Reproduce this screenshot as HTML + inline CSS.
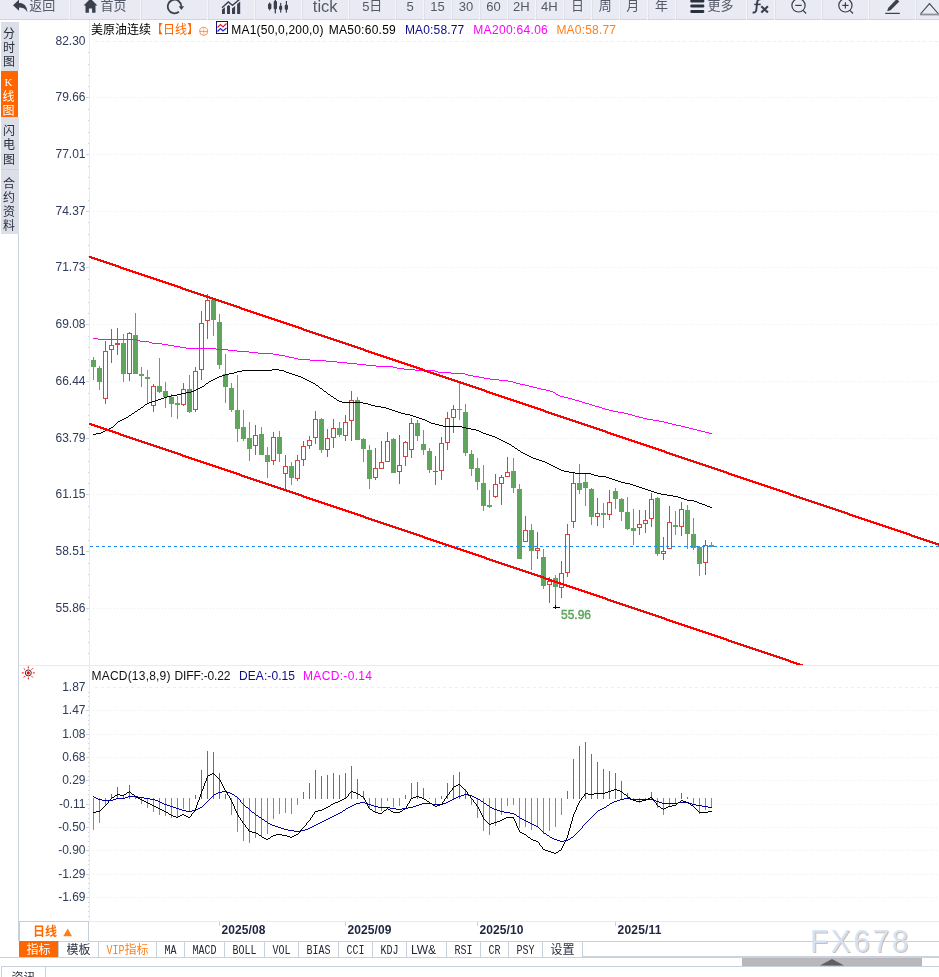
<!DOCTYPE html>
<html lang="zh-CN"><head><meta charset="utf-8"><title>美原油连续 日线</title>
<style>
html,body{margin:0;padding:0;background:#fff;}
body{width:939px;height:977px;overflow:hidden;position:relative;font-family:"Liberation Sans","Noto Sans CJK SC",sans-serif;}
#page{position:absolute;left:0;top:0;width:939px;height:977px;overflow:hidden;background:#fff;}
.toolbar{position:absolute;left:0;top:0;width:939px;height:20px;background:#f6f7fa;}
.tb{position:absolute;top:-7px;height:25px;background:#e8eaf2;border-bottom:1px solid #d3d6df;box-sizing:content-box;display:flex;align-items:center;justify-content:center;font-size:13px;color:#3a3f4d;white-space:nowrap;overflow:hidden;line-height:1}
.tb span{display:inline-block}
.tb .en{font-size:15px;font-family:"Liberation Sans",sans-serif;color:#4a4f5d}
.tb .ic{display:inline-block;margin-right:3px;flex:none}
.tb .fx{font-weight:bold;font-size:15px;color:#2a2f3d}
.side{position:absolute;left:1px;width:18px;padding-right:2px;background:#dcdfe8;color:#2a3040;font-size:12px;text-align:center;line-height:14px;box-sizing:border-box;font-family:"Liberation Sans","Noto Sans CJK SC",sans-serif}
.side.on{background:#ff6600;color:#fff}
.period{position:absolute;left:19px;top:921px;width:68px;height:19px;border:1px solid #c5cedb;box-sizing:content-box;color:#ff6a00;font-weight:bold;font-size:12px;line-height:19px;text-align:center;background:#fff}
.bt{position:absolute;top:941px;height:16px;border-right:1px solid #c9d1dc;border-top:1px solid #c9d1dc;box-sizing:border-box;font-size:12px;line-height:15px;padding-top:1px;text-align:center;color:#2a3040;background:#fff;white-space:nowrap;font-family:"Liberation Sans","Noto Sans CJK SC",sans-serif}
.bt.on{background:#ff6600;color:#fff;border-top-color:#ff6600}
.bt.vip{color:#ff7f1a}
.bt.m{color:#222838}
.bt.lw{padding-right:6px}
.mm{display:inline-block;font-family:"Liberation Mono",monospace;font-size:10px;transform:scaleY(1.2);transform-origin:50% 60%}
.hline{position:absolute;height:1px;background:#c9d1dc}
</style></head>
<body><div id="page">
<svg width="939" height="977" viewBox="0 0 939 977" style="position:absolute;left:0;top:0">
<g shape-rendering="crispEdges">
<rect x="89" y="20" width="1" height="901" fill="#e7ecf1"/>
<rect x="18" y="117" width="1" height="824" fill="#c9d1dc"/>
<rect x="19" y="665" width="920" height="1" fill="#e7ecf1"/>
<rect x="19" y="921" width="920" height="1" fill="#e7ecf1"/>
<line x1="95" x2="939" y1="41.5" y2="41.5" stroke="#e9eef1" stroke-dasharray="3 3"/>
<line x1="91" x2="939" y1="97.5" y2="97.5" stroke="#e9eef1" stroke-dasharray="1 2" stroke-dashoffset="1"/>
<rect x="86" y="97" width="3" height="1" fill="#ccd2da"/>
<line x1="91" x2="939" y1="154.5" y2="154.5" stroke="#e9eef1" stroke-dasharray="1 2" stroke-dashoffset="1"/>
<rect x="86" y="154" width="3" height="1" fill="#ccd2da"/>
<line x1="91" x2="939" y1="211.5" y2="211.5" stroke="#e9eef1" stroke-dasharray="1 2" stroke-dashoffset="1"/>
<rect x="86" y="211" width="3" height="1" fill="#ccd2da"/>
<line x1="91" x2="939" y1="267.5" y2="267.5" stroke="#e9eef1" stroke-dasharray="1 2" stroke-dashoffset="1"/>
<rect x="86" y="267" width="3" height="1" fill="#ccd2da"/>
<line x1="91" x2="939" y1="324.5" y2="324.5" stroke="#e9eef1" stroke-dasharray="1 2" stroke-dashoffset="1"/>
<rect x="86" y="324" width="3" height="1" fill="#ccd2da"/>
<line x1="91" x2="939" y1="381.5" y2="381.5" stroke="#e9eef1" stroke-dasharray="1 2" stroke-dashoffset="1"/>
<rect x="86" y="381" width="3" height="1" fill="#ccd2da"/>
<line x1="91" x2="939" y1="438.5" y2="438.5" stroke="#e9eef1" stroke-dasharray="1 2" stroke-dashoffset="1"/>
<rect x="86" y="438" width="3" height="1" fill="#ccd2da"/>
<line x1="91" x2="939" y1="494.5" y2="494.5" stroke="#e9eef1" stroke-dasharray="1 2" stroke-dashoffset="1"/>
<rect x="86" y="494" width="3" height="1" fill="#ccd2da"/>
<line x1="91" x2="939" y1="551.5" y2="551.5" stroke="#e9eef1" stroke-dasharray="1 2" stroke-dashoffset="1"/>
<rect x="86" y="551" width="3" height="1" fill="#ccd2da"/>
<line x1="91" x2="939" y1="608.5" y2="608.5" stroke="#e9eef1" stroke-dasharray="1 2" stroke-dashoffset="1"/>
<rect x="86" y="608" width="3" height="1" fill="#ccd2da"/>
<rect x="88" y="52" width="1" height="1" fill="#ccd2da"/>
<rect x="88" y="64" width="1" height="1" fill="#ccd2da"/>
<rect x="88" y="75" width="1" height="1" fill="#ccd2da"/>
<rect x="88" y="86" width="1" height="1" fill="#ccd2da"/>
<rect x="88" y="109" width="1" height="1" fill="#ccd2da"/>
<rect x="88" y="120" width="1" height="1" fill="#ccd2da"/>
<rect x="88" y="132" width="1" height="1" fill="#ccd2da"/>
<rect x="88" y="143" width="1" height="1" fill="#ccd2da"/>
<rect x="88" y="166" width="1" height="1" fill="#ccd2da"/>
<rect x="88" y="177" width="1" height="1" fill="#ccd2da"/>
<rect x="88" y="188" width="1" height="1" fill="#ccd2da"/>
<rect x="88" y="200" width="1" height="1" fill="#ccd2da"/>
<rect x="88" y="222" width="1" height="1" fill="#ccd2da"/>
<rect x="88" y="234" width="1" height="1" fill="#ccd2da"/>
<rect x="88" y="245" width="1" height="1" fill="#ccd2da"/>
<rect x="88" y="256" width="1" height="1" fill="#ccd2da"/>
<rect x="88" y="279" width="1" height="1" fill="#ccd2da"/>
<rect x="88" y="290" width="1" height="1" fill="#ccd2da"/>
<rect x="88" y="302" width="1" height="1" fill="#ccd2da"/>
<rect x="88" y="313" width="1" height="1" fill="#ccd2da"/>
<rect x="88" y="336" width="1" height="1" fill="#ccd2da"/>
<rect x="88" y="347" width="1" height="1" fill="#ccd2da"/>
<rect x="88" y="359" width="1" height="1" fill="#ccd2da"/>
<rect x="88" y="370" width="1" height="1" fill="#ccd2da"/>
<rect x="88" y="393" width="1" height="1" fill="#ccd2da"/>
<rect x="88" y="404" width="1" height="1" fill="#ccd2da"/>
<rect x="88" y="415" width="1" height="1" fill="#ccd2da"/>
<rect x="88" y="427" width="1" height="1" fill="#ccd2da"/>
<rect x="88" y="449" width="1" height="1" fill="#ccd2da"/>
<rect x="88" y="461" width="1" height="1" fill="#ccd2da"/>
<rect x="88" y="472" width="1" height="1" fill="#ccd2da"/>
<rect x="88" y="483" width="1" height="1" fill="#ccd2da"/>
<rect x="88" y="506" width="1" height="1" fill="#ccd2da"/>
<rect x="88" y="517" width="1" height="1" fill="#ccd2da"/>
<rect x="88" y="529" width="1" height="1" fill="#ccd2da"/>
<rect x="88" y="540" width="1" height="1" fill="#ccd2da"/>
<rect x="88" y="563" width="1" height="1" fill="#ccd2da"/>
<rect x="88" y="574" width="1" height="1" fill="#ccd2da"/>
<rect x="88" y="585" width="1" height="1" fill="#ccd2da"/>
<rect x="88" y="597" width="1" height="1" fill="#ccd2da"/>
<rect x="88" y="619" width="1" height="1" fill="#ccd2da"/>
<rect x="88" y="631" width="1" height="1" fill="#ccd2da"/>
<rect x="88" y="642" width="1" height="1" fill="#ccd2da"/>
<rect x="88" y="653" width="1" height="1" fill="#ccd2da"/>
<line x1="95" x2="939" y1="687.5" y2="687.5" stroke="#e9eef1" stroke-dasharray="3 3"/>
<line x1="91" x2="939" y1="710.5" y2="710.5" stroke="#e9eef1" stroke-dasharray="1 2" stroke-dashoffset="1"/>
<rect x="86" y="710" width="3" height="1" fill="#ccd2da"/>
<line x1="91" x2="939" y1="734.5" y2="734.5" stroke="#e9eef1" stroke-dasharray="1 2" stroke-dashoffset="1"/>
<rect x="86" y="734" width="3" height="1" fill="#ccd2da"/>
<line x1="91" x2="939" y1="757.5" y2="757.5" stroke="#e9eef1" stroke-dasharray="1 2" stroke-dashoffset="1"/>
<rect x="86" y="757" width="3" height="1" fill="#ccd2da"/>
<line x1="91" x2="939" y1="780.5" y2="780.5" stroke="#e9eef1" stroke-dasharray="1 2" stroke-dashoffset="1"/>
<rect x="86" y="780" width="3" height="1" fill="#ccd2da"/>
<line x1="91" x2="939" y1="804.5" y2="804.5" stroke="#e9eef1" stroke-dasharray="1 2" stroke-dashoffset="1"/>
<rect x="86" y="804" width="3" height="1" fill="#ccd2da"/>
<line x1="91" x2="939" y1="827.5" y2="827.5" stroke="#e9eef1" stroke-dasharray="1 2" stroke-dashoffset="1"/>
<rect x="86" y="827" width="3" height="1" fill="#ccd2da"/>
<line x1="91" x2="939" y1="850.5" y2="850.5" stroke="#e9eef1" stroke-dasharray="1 2" stroke-dashoffset="1"/>
<rect x="86" y="850" width="3" height="1" fill="#ccd2da"/>
<line x1="91" x2="939" y1="874.5" y2="874.5" stroke="#e9eef1" stroke-dasharray="1 2" stroke-dashoffset="1"/>
<rect x="86" y="874" width="3" height="1" fill="#ccd2da"/>
<line x1="91" x2="939" y1="897.5" y2="897.5" stroke="#e9eef1" stroke-dasharray="1 2" stroke-dashoffset="1"/>
<rect x="86" y="897" width="3" height="1" fill="#ccd2da"/>
<rect x="88" y="692" width="1" height="1" fill="#ccd2da"/>
<rect x="88" y="696" width="1" height="1" fill="#ccd2da"/>
<rect x="88" y="701" width="1" height="1" fill="#ccd2da"/>
<rect x="88" y="706" width="1" height="1" fill="#ccd2da"/>
<rect x="88" y="715" width="1" height="1" fill="#ccd2da"/>
<rect x="88" y="720" width="1" height="1" fill="#ccd2da"/>
<rect x="88" y="724" width="1" height="1" fill="#ccd2da"/>
<rect x="88" y="729" width="1" height="1" fill="#ccd2da"/>
<rect x="88" y="738" width="1" height="1" fill="#ccd2da"/>
<rect x="88" y="743" width="1" height="1" fill="#ccd2da"/>
<rect x="88" y="748" width="1" height="1" fill="#ccd2da"/>
<rect x="88" y="752" width="1" height="1" fill="#ccd2da"/>
<rect x="88" y="762" width="1" height="1" fill="#ccd2da"/>
<rect x="88" y="766" width="1" height="1" fill="#ccd2da"/>
<rect x="88" y="771" width="1" height="1" fill="#ccd2da"/>
<rect x="88" y="776" width="1" height="1" fill="#ccd2da"/>
<rect x="88" y="785" width="1" height="1" fill="#ccd2da"/>
<rect x="88" y="790" width="1" height="1" fill="#ccd2da"/>
<rect x="88" y="794" width="1" height="1" fill="#ccd2da"/>
<rect x="88" y="799" width="1" height="1" fill="#ccd2da"/>
<rect x="88" y="808" width="1" height="1" fill="#ccd2da"/>
<rect x="88" y="813" width="1" height="1" fill="#ccd2da"/>
<rect x="88" y="818" width="1" height="1" fill="#ccd2da"/>
<rect x="88" y="822" width="1" height="1" fill="#ccd2da"/>
<rect x="88" y="832" width="1" height="1" fill="#ccd2da"/>
<rect x="88" y="836" width="1" height="1" fill="#ccd2da"/>
<rect x="88" y="841" width="1" height="1" fill="#ccd2da"/>
<rect x="88" y="846" width="1" height="1" fill="#ccd2da"/>
<rect x="88" y="855" width="1" height="1" fill="#ccd2da"/>
<rect x="88" y="860" width="1" height="1" fill="#ccd2da"/>
<rect x="88" y="864" width="1" height="1" fill="#ccd2da"/>
<rect x="88" y="869" width="1" height="1" fill="#ccd2da"/>
<rect x="88" y="878" width="1" height="1" fill="#ccd2da"/>
<rect x="88" y="883" width="1" height="1" fill="#ccd2da"/>
<rect x="88" y="888" width="1" height="1" fill="#ccd2da"/>
<rect x="88" y="892" width="1" height="1" fill="#ccd2da"/>
<rect x="88" y="902" width="1" height="1" fill="#ccd2da"/>
<rect x="88" y="906" width="1" height="1" fill="#ccd2da"/>
<rect x="88" y="911" width="1" height="1" fill="#ccd2da"/>
<rect x="88" y="916" width="1" height="1" fill="#ccd2da"/>
<rect x="219" y="922" width="1" height="4" fill="#ccd2da"/>
<rect x="345" y="922" width="1" height="4" fill="#ccd2da"/>
<rect x="477" y="922" width="1" height="4" fill="#ccd2da"/>
<rect x="615" y="922" width="1" height="4" fill="#ccd2da"/>
<rect x="93" y="798" width="1" height="32" fill="#60a55e"/>
<rect x="99" y="798" width="1" height="25" fill="#60a55e"/>
<rect x="105" y="798" width="1" height="8" fill="#60a55e"/>
<rect x="111" y="794" width="1" height="5" fill="#d2453c"/>
<rect x="117" y="787" width="1" height="12" fill="#d2453c"/>
<rect x="123" y="795" width="1" height="4" fill="#d2453c"/>
<rect x="129" y="785" width="1" height="14" fill="#d2453c"/>
<rect x="135" y="796" width="1" height="3" fill="#d2453c"/>
<rect x="141" y="798" width="1" height="6" fill="#60a55e"/>
<rect x="147" y="798" width="1" height="10" fill="#60a55e"/>
<rect x="153" y="798" width="1" height="14" fill="#60a55e"/>
<rect x="159" y="798" width="1" height="17" fill="#60a55e"/>
<rect x="165" y="798" width="1" height="18" fill="#60a55e"/>
<rect x="171" y="798" width="1" height="20" fill="#60a55e"/>
<rect x="177" y="798" width="1" height="19" fill="#60a55e"/>
<rect x="183" y="798" width="1" height="11" fill="#60a55e"/>
<rect x="189" y="798" width="1" height="13" fill="#60a55e"/>
<rect x="195" y="795" width="1" height="4" fill="#d2453c"/>
<rect x="201" y="770" width="1" height="29" fill="#d2453c"/>
<rect x="207" y="751" width="1" height="48" fill="#d2453c"/>
<rect x="213" y="752" width="1" height="47" fill="#d2453c"/>
<rect x="219" y="773" width="1" height="26" fill="#d2453c"/>
<rect x="225" y="794" width="1" height="5" fill="#d2453c"/>
<rect x="231" y="798" width="1" height="17" fill="#60a55e"/>
<rect x="237" y="798" width="1" height="34" fill="#60a55e"/>
<rect x="243" y="798" width="1" height="43" fill="#60a55e"/>
<rect x="249" y="798" width="1" height="45" fill="#60a55e"/>
<rect x="255" y="798" width="1" height="40" fill="#60a55e"/>
<rect x="261" y="798" width="1" height="38" fill="#60a55e"/>
<rect x="267" y="798" width="1" height="36" fill="#60a55e"/>
<rect x="273" y="798" width="1" height="21" fill="#60a55e"/>
<rect x="279" y="798" width="1" height="16" fill="#60a55e"/>
<rect x="285" y="798" width="1" height="15" fill="#60a55e"/>
<rect x="291" y="798" width="1" height="16" fill="#60a55e"/>
<rect x="297" y="798" width="1" height="7" fill="#60a55e"/>
<rect x="303" y="792" width="1" height="7" fill="#d2453c"/>
<rect x="309" y="783" width="1" height="16" fill="#d2453c"/>
<rect x="315" y="770" width="1" height="29" fill="#d2453c"/>
<rect x="321" y="776" width="1" height="23" fill="#d2453c"/>
<rect x="327" y="775" width="1" height="24" fill="#d2453c"/>
<rect x="333" y="773" width="1" height="26" fill="#d2453c"/>
<rect x="339" y="775" width="1" height="24" fill="#d2453c"/>
<rect x="345" y="773" width="1" height="26" fill="#d2453c"/>
<rect x="351" y="766" width="1" height="33" fill="#d2453c"/>
<rect x="357" y="779" width="1" height="20" fill="#d2453c"/>
<rect x="363" y="791" width="1" height="8" fill="#d2453c"/>
<rect x="369" y="798" width="1" height="11" fill="#60a55e"/>
<rect x="375" y="798" width="1" height="15" fill="#60a55e"/>
<rect x="381" y="798" width="1" height="13" fill="#60a55e"/>
<rect x="387" y="798" width="1" height="3" fill="#60a55e"/>
<rect x="393" y="798" width="1" height="9" fill="#60a55e"/>
<rect x="399" y="798" width="1" height="8" fill="#60a55e"/>
<rect x="405" y="795" width="1" height="4" fill="#d2453c"/>
<rect x="411" y="783" width="1" height="16" fill="#d2453c"/>
<rect x="417" y="782" width="1" height="17" fill="#d2453c"/>
<rect x="423" y="788" width="1" height="11" fill="#d2453c"/>
<rect x="429" y="798" width="1" height="1" fill="#60a55e"/>
<rect x="435" y="798" width="1" height="7" fill="#60a55e"/>
<rect x="441" y="796" width="1" height="3" fill="#d2453c"/>
<rect x="447" y="783" width="1" height="16" fill="#d2453c"/>
<rect x="453" y="775" width="1" height="24" fill="#d2453c"/>
<rect x="459" y="772" width="1" height="27" fill="#d2453c"/>
<rect x="465" y="789" width="1" height="10" fill="#d2453c"/>
<rect x="471" y="798" width="1" height="7" fill="#60a55e"/>
<rect x="477" y="798" width="1" height="20" fill="#60a55e"/>
<rect x="483" y="798" width="1" height="33" fill="#60a55e"/>
<rect x="489" y="798" width="1" height="37" fill="#60a55e"/>
<rect x="495" y="798" width="1" height="28" fill="#60a55e"/>
<rect x="501" y="798" width="1" height="17" fill="#60a55e"/>
<rect x="507" y="798" width="1" height="8" fill="#60a55e"/>
<rect x="513" y="798" width="1" height="7" fill="#60a55e"/>
<rect x="519" y="798" width="1" height="30" fill="#60a55e"/>
<rect x="525" y="798" width="1" height="29" fill="#60a55e"/>
<rect x="531" y="798" width="1" height="32" fill="#60a55e"/>
<rect x="537" y="798" width="1" height="28" fill="#60a55e"/>
<rect x="543" y="798" width="1" height="36" fill="#60a55e"/>
<rect x="549" y="798" width="1" height="33" fill="#60a55e"/>
<rect x="555" y="798" width="1" height="29" fill="#60a55e"/>
<rect x="561" y="798" width="1" height="17" fill="#60a55e"/>
<rect x="567" y="791" width="1" height="8" fill="#d2453c"/>
<rect x="573" y="759" width="1" height="40" fill="#d2453c"/>
<rect x="579" y="746" width="1" height="53" fill="#d2453c"/>
<rect x="585" y="742" width="1" height="57" fill="#d2453c"/>
<rect x="591" y="754" width="1" height="45" fill="#d2453c"/>
<rect x="597" y="762" width="1" height="37" fill="#d2453c"/>
<rect x="603" y="769" width="1" height="30" fill="#d2453c"/>
<rect x="609" y="771" width="1" height="28" fill="#d2453c"/>
<rect x="615" y="773" width="1" height="26" fill="#d2453c"/>
<rect x="621" y="781" width="1" height="18" fill="#d2453c"/>
<rect x="627" y="793" width="1" height="6" fill="#d2453c"/>
<rect x="633" y="798" width="1" height="3" fill="#60a55e"/>
<rect x="639" y="798" width="1" height="5" fill="#60a55e"/>
<rect x="645" y="798" width="1" height="3" fill="#60a55e"/>
<rect x="651" y="792" width="1" height="7" fill="#d2453c"/>
<rect x="657" y="798" width="1" height="10" fill="#60a55e"/>
<rect x="663" y="798" width="1" height="17" fill="#60a55e"/>
<rect x="669" y="798" width="1" height="8" fill="#60a55e"/>
<rect x="675" y="798" width="1" height="5" fill="#60a55e"/>
<rect x="681" y="793" width="1" height="6" fill="#d2453c"/>
<rect x="687" y="797" width="1" height="2" fill="#d2453c"/>
<rect x="693" y="798" width="1" height="7" fill="#60a55e"/>
<rect x="699" y="798" width="1" height="16" fill="#60a55e"/>
<rect x="705" y="798" width="1" height="12" fill="#60a55e"/>
<rect x="711" y="798" width="1" height="10" fill="#60a55e"/>
</g>
<path d="M93 796h1v1h-1zM94 797h1v1h-1zM95 797h1v1h-1zM96 798h1v1h-1zM97 798h1v1h-1zM98 799h1v1h-1zM99 799h1v1h-1zM100 799h1v1h-1zM101 799h1v1h-1zM102 800h1v1h-1zM103 800h1v1h-1zM104 800h1v1h-1zM105 800h1v1h-1zM106 800h1v1h-1zM107 800h1v1h-1zM108 800h1v1h-1zM109 800h1v1h-1zM110 800h1v1h-1zM111 800h1v1h-1zM112 800h1v1h-1zM113 799h1v1h-1zM114 799h1v1h-1zM115 799h1v1h-1zM116 798h1v1h-1zM117 798h1v1h-1zM118 798h1v1h-1zM119 798h1v1h-1zM120 798h1v1h-1zM121 798h1v1h-1zM122 798h1v1h-1zM123 798h1v1h-1zM124 798h1v1h-1zM125 797h1v1h-1zM126 797h1v1h-1zM127 797h1v1h-1zM128 796h1v1h-1zM129 796h1v1h-1zM130 796h1v1h-1zM131 796h1v1h-1zM132 796h1v1h-1zM133 796h1v1h-1zM134 796h1v1h-1zM135 796h1v1h-1zM136 796h1v1h-1zM137 796h1v1h-1zM138 797h1v1h-1zM139 797h1v1h-1zM140 797h1v1h-1zM141 797h1v1h-1zM142 797h1v1h-1zM143 797h1v1h-1zM144 798h1v1h-1zM145 798h1v1h-1zM146 798h1v1h-1zM147 798h1v1h-1zM148 798h1v1h-1zM149 798h1v1h-1zM150 799h1v1h-1zM151 799h1v1h-1zM152 799h1v1h-1zM153 799h1v1h-1zM154 799h1v1h-1zM155 800h1v1h-1zM156 800h1v1h-1zM157 800h1v1h-1zM158 801h1v1h-1zM159 801h1v1h-1zM160 802h1v1h-1zM161 802h1v1h-1zM162 803h1v1h-1zM163 803h1v1h-1zM164 804h1v1h-1zM165 804h1v1h-1zM166 804h1v1h-1zM167 805h1v1h-1zM168 805h1v1h-1zM169 805h1v1h-1zM170 806h1v1h-1zM171 806h1v1h-1zM172 806h1v1h-1zM173 807h1v1h-1zM174 807h1v1h-1zM175 807h1v1h-1zM176 808h1v1h-1zM177 808h1v1h-1zM178 808h1v1h-1zM179 809h1v1h-1zM180 809h1v1h-1zM181 809h1v1h-1zM182 810h1v1h-1zM183 810h1v1h-1zM184 810h1v1h-1zM185 810h1v1h-1zM186 811h1v1h-1zM187 811h1v1h-1zM188 811h1v1h-1zM189 811h1v1h-1zM190 811h1v1h-1zM191 811h1v1h-1zM192 810h1v1h-1zM193 810h1v1h-1zM194 810h1v1h-1zM195 810h1v1h-1zM196 809h1v1h-1zM197 809h1v1h-1zM198 808h1v1h-1zM199 808h1v1h-1zM200 807h1v1h-1zM201 807h1v1h-1zM202 806h1v1h-1zM203 805h1v1h-1zM204 804h1v1h-1zM205 803h1v1h-1zM206 802h1v1h-1zM207 801h1v1h-1zM208 800h1v1h-1zM209 799h1v1h-1zM210 798h1v1h-1zM211 797h1v1h-1zM212 796h1v1h-1zM213 795h1v1h-1zM214 794h1v1h-1zM215 794h1v1h-1zM216 793h1v1h-1zM217 793h1v1h-1zM218 792h1v1h-1zM219 792h1v1h-1zM220 792h1v1h-1zM221 792h1v1h-1zM222 791h1v1h-1zM223 791h1v1h-1zM224 791h1v1h-1zM225 791h1v1h-1zM226 791h1v1h-1zM227 792h1v1h-1zM228 792h1v1h-1zM229 792h1v1h-1zM230 793h1v1h-1zM231 793h1v1h-1zM232 794h1v1h-1zM233 794h1v1h-1zM234 795h1v1h-1zM235 796h1v1h-1zM236 796h1v1h-1zM237 797h1v1h-1zM238 798h1v1h-1zM239 799h1v1h-1zM240 800h1v2h-1zM241 802h1v1h-1zM242 803h1v1h-1zM243 804h1v1h-1zM244 805h1v1h-1zM245 806h1v1h-1zM246 807h1v1h-1zM247 807h1v1h-1zM248 808h1v1h-1zM249 809h1v1h-1zM250 810h1v1h-1zM251 811h1v1h-1zM252 812h1v1h-1zM253 812h1v1h-1zM254 813h1v1h-1zM255 814h1v1h-1zM256 815h1v1h-1zM257 815h1v1h-1zM258 816h1v1h-1zM259 817h1v1h-1zM260 817h1v1h-1zM261 818h1v1h-1zM262 819h1v1h-1zM263 819h1v1h-1zM264 820h1v1h-1zM265 821h1v1h-1zM266 821h1v1h-1zM267 822h1v1h-1zM268 823h1v1h-1zM269 823h1v1h-1zM270 824h1v1h-1zM271 824h1v1h-1zM272 825h1v1h-1zM273 825h1v1h-1zM274 825h1v1h-1zM275 826h1v1h-1zM276 826h1v1h-1zM277 826h1v1h-1zM278 827h1v1h-1zM279 827h1v1h-1zM280 827h1v1h-1zM281 828h1v1h-1zM282 828h1v1h-1zM283 828h1v1h-1zM284 829h1v1h-1zM285 829h1v1h-1zM286 829h1v1h-1zM287 829h1v1h-1zM288 830h1v1h-1zM289 830h1v1h-1zM290 830h1v1h-1zM291 830h1v1h-1zM292 830h1v1h-1zM293 830h1v1h-1zM294 831h1v1h-1zM295 831h1v1h-1zM296 831h1v1h-1zM297 831h1v1h-1zM298 831h1v1h-1zM299 831h1v1h-1zM300 830h1v1h-1zM301 830h1v1h-1zM302 830h1v1h-1zM303 830h1v1h-1zM304 830h1v1h-1zM305 829h1v1h-1zM306 829h1v1h-1zM307 829h1v1h-1zM308 828h1v1h-1zM309 828h1v1h-1zM310 827h1v1h-1zM311 827h1v1h-1zM312 826h1v1h-1zM313 826h1v1h-1zM314 825h1v1h-1zM315 825h1v1h-1zM316 824h1v1h-1zM317 824h1v1h-1zM318 823h1v1h-1zM319 823h1v1h-1zM320 822h1v1h-1zM321 822h1v1h-1zM322 821h1v1h-1zM323 821h1v1h-1zM324 820h1v1h-1zM325 820h1v1h-1zM326 819h1v1h-1zM327 819h1v1h-1zM328 818h1v1h-1zM329 818h1v1h-1zM330 817h1v1h-1zM331 817h1v1h-1zM332 816h1v1h-1zM333 816h1v1h-1zM334 815h1v1h-1zM335 815h1v1h-1zM336 814h1v1h-1zM337 814h1v1h-1zM338 813h1v1h-1zM339 813h1v1h-1zM340 812h1v1h-1zM341 812h1v1h-1zM342 811h1v1h-1zM343 810h1v1h-1zM344 810h1v1h-1zM345 809h1v1h-1zM346 808h1v1h-1zM347 808h1v1h-1zM348 807h1v1h-1zM349 807h1v1h-1zM350 806h1v1h-1zM351 806h1v1h-1zM352 805h1v1h-1zM353 805h1v1h-1zM354 804h1v1h-1zM355 804h1v1h-1zM356 803h1v1h-1zM357 803h1v1h-1zM358 803h1v1h-1zM359 803h1v1h-1zM360 802h1v1h-1zM361 802h1v1h-1zM362 802h1v1h-1zM363 802h1v1h-1zM364 802h1v1h-1zM365 803h1v1h-1zM366 803h1v1h-1zM367 803h1v1h-1zM368 804h1v1h-1zM369 804h1v1h-1zM370 804h1v1h-1zM371 805h1v1h-1zM372 805h1v1h-1zM373 805h1v1h-1zM374 806h1v1h-1zM375 806h1v1h-1zM376 806h1v1h-1zM377 806h1v1h-1zM378 807h1v1h-1zM379 807h1v1h-1zM380 807h1v1h-1zM381 807h1v1h-1zM382 807h1v1h-1zM383 807h1v1h-1zM384 807h1v1h-1zM385 807h1v1h-1zM386 807h1v1h-1zM387 807h1v1h-1zM388 807h1v1h-1zM389 807h1v1h-1zM390 808h1v1h-1zM391 808h1v1h-1zM392 808h1v1h-1zM393 808h1v1h-1zM394 808h1v1h-1zM395 808h1v1h-1zM396 809h1v1h-1zM397 809h1v1h-1zM398 809h1v1h-1zM399 809h1v1h-1zM400 809h1v1h-1zM401 809h1v1h-1zM402 808h1v1h-1zM403 808h1v1h-1zM404 808h1v1h-1zM405 808h1v1h-1zM406 808h1v1h-1zM407 808h1v1h-1zM408 807h1v1h-1zM409 807h1v1h-1zM410 807h1v1h-1zM411 807h1v1h-1zM412 807h1v1h-1zM413 806h1v1h-1zM414 806h1v1h-1zM415 806h1v1h-1zM416 805h1v1h-1zM417 805h1v1h-1zM418 805h1v1h-1zM419 804h1v1h-1zM420 804h1v1h-1zM421 804h1v1h-1zM422 803h1v1h-1zM423 803h1v1h-1zM424 803h1v1h-1zM425 803h1v1h-1zM426 803h1v1h-1zM427 803h1v1h-1zM428 803h1v1h-1zM429 803h1v1h-1zM430 803h1v1h-1zM431 803h1v1h-1zM432 804h1v1h-1zM433 804h1v1h-1zM434 804h1v1h-1zM435 804h1v1h-1zM436 804h1v1h-1zM437 804h1v1h-1zM438 804h1v1h-1zM439 804h1v1h-1zM440 804h1v1h-1zM441 804h1v1h-1zM442 804h1v1h-1zM443 803h1v1h-1zM444 803h1v1h-1zM445 803h1v1h-1zM446 802h1v1h-1zM447 802h1v1h-1zM448 801h1v1h-1zM449 801h1v1h-1zM450 800h1v1h-1zM451 800h1v1h-1zM452 799h1v1h-1zM453 799h1v1h-1zM454 798h1v1h-1zM455 798h1v1h-1zM456 797h1v1h-1zM457 797h1v1h-1zM458 796h1v1h-1zM459 796h1v1h-1zM460 796h1v1h-1zM461 795h1v1h-1zM462 795h1v1h-1zM463 795h1v1h-1zM464 794h1v1h-1zM465 794h1v1h-1zM466 794h1v1h-1zM467 794h1v1h-1zM468 795h1v1h-1zM469 795h1v1h-1zM470 795h1v1h-1zM471 795h1v1h-1zM472 796h1v1h-1zM473 796h1v1h-1zM474 797h1v1h-1zM475 797h1v1h-1zM476 798h1v1h-1zM477 798h1v1h-1zM478 799h1v1h-1zM479 799h1v1h-1zM480 800h1v1h-1zM481 801h1v1h-1zM482 801h1v1h-1zM483 802h1v1h-1zM484 803h1v1h-1zM485 803h1v1h-1zM486 804h1v1h-1zM487 805h1v1h-1zM488 805h1v1h-1zM489 806h1v1h-1zM490 807h1v1h-1zM491 807h1v1h-1zM492 808h1v1h-1zM493 808h1v1h-1zM494 809h1v1h-1zM495 809h1v1h-1zM496 809h1v1h-1zM497 810h1v1h-1zM498 810h1v1h-1zM499 810h1v1h-1zM500 811h1v1h-1zM501 811h1v1h-1zM502 811h1v1h-1zM503 811h1v1h-1zM504 812h1v1h-1zM505 812h1v1h-1zM506 812h1v1h-1zM507 812h1v1h-1zM508 812h1v1h-1zM509 812h1v1h-1zM510 813h1v1h-1zM511 813h1v1h-1zM512 813h1v1h-1zM513 813h1v1h-1zM514 814h1v1h-1zM515 814h1v1h-1zM516 815h1v1h-1zM517 816h1v1h-1zM518 816h1v1h-1zM519 817h1v1h-1zM520 818h1v1h-1zM521 818h1v1h-1zM522 819h1v1h-1zM523 819h1v1h-1zM524 820h1v1h-1zM525 820h1v1h-1zM526 821h1v1h-1zM527 821h1v1h-1zM528 822h1v1h-1zM529 822h1v1h-1zM530 823h1v1h-1zM531 823h1v1h-1zM532 824h1v1h-1zM533 824h1v1h-1zM534 825h1v1h-1zM535 825h1v1h-1zM536 826h1v1h-1zM537 826h1v1h-1zM538 827h1v1h-1zM539 828h1v1h-1zM540 829h1v1h-1zM541 830h1v1h-1zM542 831h1v1h-1zM543 832h1v1h-1zM544 833h1v1h-1zM545 833h1v1h-1zM546 834h1v1h-1zM547 835h1v1h-1zM548 835h1v1h-1zM549 836h1v1h-1zM550 837h1v1h-1zM551 837h1v1h-1zM552 838h1v1h-1zM553 838h1v1h-1zM554 839h1v1h-1zM555 839h1v1h-1zM556 839h1v1h-1zM557 840h1v1h-1zM558 840h1v1h-1zM559 840h1v1h-1zM560 841h1v1h-1zM561 841h1v1h-1zM562 841h1v1h-1zM563 841h1v1h-1zM564 840h1v1h-1zM565 840h1v1h-1zM566 840h1v1h-1zM567 840h1v1h-1zM568 839h1v1h-1zM569 839h1v1h-1zM570 838h1v1h-1zM571 837h1v1h-1zM572 837h1v1h-1zM573 836h1v1h-1zM574 835h1v1h-1zM575 834h1v1h-1zM576 833h1v1h-1zM577 832h1v1h-1zM578 831h1v1h-1zM579 830h1v1h-1zM580 829h1v1h-1zM581 828h1v1h-1zM582 826h1v2h-1zM583 825h1v1h-1zM584 824h1v1h-1zM585 823h1v1h-1zM586 822h1v1h-1zM587 821h1v1h-1zM588 820h1v1h-1zM589 819h1v1h-1zM590 818h1v1h-1zM591 817h1v1h-1zM592 816h1v1h-1zM593 815h1v1h-1zM594 814h1v1h-1zM595 813h1v1h-1zM596 812h1v1h-1zM597 811h1v1h-1zM598 810h1v1h-1zM599 810h1v1h-1zM600 809h1v1h-1zM601 809h1v1h-1zM602 808h1v1h-1zM603 808h1v1h-1zM604 807h1v1h-1zM605 807h1v1h-1zM606 806h1v1h-1zM607 805h1v1h-1zM608 805h1v1h-1zM609 804h1v1h-1zM610 803h1v1h-1zM611 803h1v1h-1zM612 802h1v1h-1zM613 802h1v1h-1zM614 801h1v1h-1zM615 801h1v1h-1zM616 801h1v1h-1zM617 800h1v1h-1zM618 800h1v1h-1zM619 800h1v1h-1zM620 799h1v1h-1zM621 799h1v1h-1zM622 799h1v1h-1zM623 799h1v1h-1zM624 798h1v1h-1zM625 798h1v1h-1zM626 798h1v1h-1zM627 798h1v1h-1zM628 798h1v1h-1zM629 798h1v1h-1zM630 799h1v1h-1zM631 799h1v1h-1zM632 799h1v1h-1zM633 799h1v1h-1zM634 799h1v1h-1zM635 799h1v1h-1zM636 799h1v1h-1zM637 799h1v1h-1zM638 799h1v1h-1zM639 799h1v1h-1zM640 799h1v1h-1zM641 799h1v1h-1zM642 799h1v1h-1zM643 799h1v1h-1zM644 799h1v1h-1zM645 799h1v1h-1zM646 799h1v1h-1zM647 799h1v1h-1zM648 799h1v1h-1zM649 799h1v1h-1zM650 799h1v1h-1zM651 799h1v1h-1zM652 799h1v1h-1zM653 800h1v1h-1zM654 800h1v1h-1zM655 800h1v1h-1zM656 801h1v1h-1zM657 801h1v1h-1zM658 801h1v1h-1zM659 802h1v1h-1zM660 802h1v1h-1zM661 802h1v1h-1zM662 803h1v1h-1zM663 803h1v1h-1zM664 803h1v1h-1zM665 803h1v1h-1zM666 803h1v1h-1zM667 803h1v1h-1zM668 803h1v1h-1zM669 803h1v1h-1zM670 803h1v1h-1zM671 803h1v1h-1zM672 803h1v1h-1zM673 803h1v1h-1zM674 803h1v1h-1zM675 803h1v1h-1zM676 803h1v1h-1zM677 803h1v1h-1zM678 802h1v1h-1zM679 802h1v1h-1zM680 802h1v1h-1zM681 802h1v1h-1zM682 802h1v1h-1zM683 802h1v1h-1zM684 802h1v1h-1zM685 802h1v1h-1zM686 802h1v1h-1zM687 802h1v1h-1zM688 802h1v1h-1zM689 803h1v1h-1zM690 803h1v1h-1zM691 803h1v1h-1zM692 804h1v1h-1zM693 804h1v1h-1zM694 804h1v1h-1zM695 804h1v1h-1zM696 805h1v1h-1zM697 805h1v1h-1zM698 805h1v1h-1zM699 805h1v1h-1zM700 805h1v1h-1zM701 805h1v1h-1zM702 806h1v1h-1zM703 806h1v1h-1zM704 806h1v1h-1zM705 806h1v1h-1zM706 806h1v1h-1zM707 806h1v1h-1zM708 807h1v1h-1zM709 807h1v1h-1zM710 807h1v1h-1zM711 807h1v1h-1z" fill="#0000a0" shape-rendering="crispEdges"/>
<path d="M93 812h1v1h-1zM94 812h1v1h-1zM95 812h1v1h-1zM96 811h1v1h-1zM97 811h1v1h-1zM98 811h1v1h-1zM99 811h1v1h-1zM100 810h1v1h-1zM101 809h1v1h-1zM102 808h1v1h-1zM103 807h1v1h-1zM104 806h1v1h-1zM105 805h1v1h-1zM106 804h1v1h-1zM107 803h1v1h-1zM108 801h1v2h-1zM109 800h1v1h-1zM110 799h1v1h-1zM111 798h1v1h-1zM112 797h1v1h-1zM113 797h1v1h-1zM114 796h1v1h-1zM115 795h1v1h-1zM116 795h1v1h-1zM117 794h1v1h-1zM118 794h1v1h-1zM119 794h1v1h-1zM120 795h1v1h-1zM121 795h1v1h-1zM122 795h1v1h-1zM123 795h1v1h-1zM124 794h1v1h-1zM125 794h1v1h-1zM126 793h1v1h-1zM127 792h1v1h-1zM128 792h1v1h-1zM129 791h1v1h-1zM130 792h1v1h-1zM131 793h1v1h-1zM132 794h1v1h-1zM133 794h1v1h-1zM134 795h1v1h-1zM135 796h1v1h-1zM136 797h1v1h-1zM137 797h1v1h-1zM138 798h1v1h-1zM139 798h1v1h-1zM140 799h1v1h-1zM141 799h1v1h-1zM142 800h1v1h-1zM143 800h1v1h-1zM144 801h1v1h-1zM145 801h1v1h-1zM146 802h1v1h-1zM147 802h1v1h-1zM148 803h1v1h-1zM149 803h1v1h-1zM150 804h1v1h-1zM151 804h1v1h-1zM152 805h1v1h-1zM153 805h1v1h-1zM154 806h1v1h-1zM155 806h1v1h-1zM156 807h1v1h-1zM157 807h1v1h-1zM158 808h1v1h-1zM159 808h1v1h-1zM160 809h1v1h-1zM161 809h1v1h-1zM162 810h1v1h-1zM163 810h1v1h-1zM164 811h1v1h-1zM165 811h1v1h-1zM166 812h1v1h-1zM167 812h1v1h-1zM168 813h1v1h-1zM169 814h1v1h-1zM170 814h1v1h-1zM171 815h1v1h-1zM172 815h1v1h-1zM173 816h1v1h-1zM174 816h1v1h-1zM175 816h1v1h-1zM176 817h1v1h-1zM177 817h1v1h-1zM178 816h1v1h-1zM179 816h1v1h-1zM180 815h1v1h-1zM181 815h1v1h-1zM182 814h1v1h-1zM183 814h1v1h-1zM184 815h1v1h-1zM185 815h1v1h-1zM186 816h1v1h-1zM187 816h1v1h-1zM188 817h1v1h-1zM189 817h1v1h-1zM190 816h1v1h-1zM191 814h1v2h-1zM192 813h1v1h-1zM193 812h1v1h-1zM194 810h1v2h-1zM195 808h1v2h-1zM196 805h1v3h-1zM197 802h1v3h-1zM198 800h1v2h-1zM199 797h1v3h-1zM200 794h1v3h-1zM201 791h1v3h-1zM202 789h1v2h-1zM203 786h1v3h-1zM204 783h1v3h-1zM205 781h1v2h-1zM206 778h1v3h-1zM207 776h1v2h-1zM208 775h1v1h-1zM209 775h1v1h-1zM210 774h1v1h-1zM211 774h1v1h-1zM212 773h1v1h-1zM213 773h1v1h-1zM214 774h1v1h-1zM215 775h1v1h-1zM216 776h1v1h-1zM217 777h1v1h-1zM218 778h1v1h-1zM219 779h1v1h-1zM220 780h1v2h-1zM221 782h1v2h-1zM222 784h1v2h-1zM223 786h1v2h-1zM224 788h1v2h-1zM225 790h1v1h-1zM226 791h1v2h-1zM227 793h1v2h-1zM228 795h1v1h-1zM229 796h1v2h-1zM230 798h1v2h-1zM231 800h1v2h-1zM232 802h1v2h-1zM233 804h1v2h-1zM234 806h1v3h-1zM235 809h1v2h-1zM236 811h1v2h-1zM237 813h1v2h-1zM238 815h1v2h-1zM239 817h1v1h-1zM240 818h1v2h-1zM241 820h1v1h-1zM242 821h1v2h-1zM243 823h1v1h-1zM244 824h1v1h-1zM245 825h1v2h-1zM246 827h1v1h-1zM247 828h1v1h-1zM248 829h1v2h-1zM249 831h1v1h-1zM250 831h1v1h-1zM251 831h1v1h-1zM252 832h1v1h-1zM253 832h1v1h-1zM254 832h1v1h-1zM255 832h1v1h-1zM256 833h1v1h-1zM257 833h1v1h-1zM258 834h1v1h-1zM259 835h1v1h-1zM260 835h1v1h-1zM261 836h1v1h-1zM262 837h1v1h-1zM263 837h1v1h-1zM264 838h1v1h-1zM265 838h1v1h-1zM266 839h1v1h-1zM267 839h1v1h-1zM268 838h1v1h-1zM269 838h1v1h-1zM270 837h1v1h-1zM271 836h1v1h-1zM272 836h1v1h-1zM273 835h1v1h-1zM274 835h1v1h-1zM275 835h1v1h-1zM276 834h1v1h-1zM277 834h1v1h-1zM278 834h1v1h-1zM279 834h1v1h-1zM280 834h1v1h-1zM281 834h1v1h-1zM282 835h1v1h-1zM283 835h1v1h-1zM284 835h1v1h-1zM285 835h1v1h-1zM286 835h1v1h-1zM287 836h1v1h-1zM288 836h1v1h-1zM289 836h1v1h-1zM290 837h1v1h-1zM291 837h1v1h-1zM292 836h1v1h-1zM293 836h1v1h-1zM294 835h1v1h-1zM295 835h1v1h-1zM296 834h1v1h-1zM297 834h1v1h-1zM298 833h1v1h-1zM299 832h1v1h-1zM300 830h1v2h-1zM301 829h1v1h-1zM302 828h1v1h-1zM303 827h1v1h-1zM304 826h1v1h-1zM305 825h1v1h-1zM306 823h1v2h-1zM307 822h1v1h-1zM308 821h1v1h-1zM309 820h1v1h-1zM310 818h1v2h-1zM311 817h1v1h-1zM312 815h1v2h-1zM313 814h1v1h-1zM314 812h1v2h-1zM315 811h1v1h-1zM316 811h1v1h-1zM317 811h1v1h-1zM318 810h1v1h-1zM319 810h1v1h-1zM320 810h1v1h-1zM321 810h1v1h-1zM322 809h1v1h-1zM323 809h1v1h-1zM324 808h1v1h-1zM325 808h1v1h-1zM326 807h1v1h-1zM327 807h1v1h-1zM328 806h1v1h-1zM329 806h1v1h-1zM330 805h1v1h-1zM331 804h1v1h-1zM332 804h1v1h-1zM333 803h1v1h-1zM334 803h1v1h-1zM335 802h1v1h-1zM336 802h1v1h-1zM337 802h1v1h-1zM338 801h1v1h-1zM339 801h1v1h-1zM340 800h1v1h-1zM341 800h1v1h-1zM342 799h1v1h-1zM343 799h1v1h-1zM344 798h1v1h-1zM345 798h1v1h-1zM346 797h1v1h-1zM347 796h1v1h-1zM348 794h1v2h-1zM349 793h1v1h-1zM350 792h1v1h-1zM351 791h1v1h-1zM352 791h1v1h-1zM353 792h1v1h-1zM354 792h1v1h-1zM355 792h1v1h-1zM356 793h1v1h-1zM357 793h1v1h-1zM358 794h1v1h-1zM359 794h1v1h-1zM360 795h1v1h-1zM361 796h1v1h-1zM362 796h1v1h-1zM363 797h1v1h-1zM364 798h1v2h-1zM365 800h1v2h-1zM366 802h1v2h-1zM367 804h1v2h-1zM368 806h1v2h-1zM369 808h1v1h-1zM370 809h1v1h-1zM371 809h1v1h-1zM372 810h1v1h-1zM373 811h1v1h-1zM374 811h1v1h-1zM375 812h1v1h-1zM376 812h1v1h-1zM377 812h1v1h-1zM378 813h1v1h-1zM379 813h1v1h-1zM380 813h1v1h-1zM381 813h1v1h-1zM382 812h1v1h-1zM383 811h1v1h-1zM384 810h1v1h-1zM385 810h1v1h-1zM386 809h1v1h-1zM387 808h1v1h-1zM388 809h1v1h-1zM389 809h1v1h-1zM390 810h1v1h-1zM391 811h1v1h-1zM392 811h1v1h-1zM393 812h1v1h-1zM394 812h1v1h-1zM395 812h1v1h-1zM396 812h1v1h-1zM397 812h1v1h-1zM398 812h1v1h-1zM399 812h1v1h-1zM400 811h1v1h-1zM401 811h1v1h-1zM402 810h1v1h-1zM403 809h1v1h-1zM404 809h1v1h-1zM405 808h1v1h-1zM406 806h1v2h-1zM407 804h1v2h-1zM408 803h1v1h-1zM409 801h1v2h-1zM410 799h1v2h-1zM411 798h1v1h-1zM412 798h1v1h-1zM413 797h1v1h-1zM414 797h1v1h-1zM415 797h1v1h-1zM416 796h1v1h-1zM417 796h1v1h-1zM418 796h1v1h-1zM419 797h1v1h-1zM420 797h1v1h-1zM421 797h1v1h-1zM422 798h1v1h-1zM423 798h1v1h-1zM424 799h1v1h-1zM425 799h1v1h-1zM426 800h1v1h-1zM427 801h1v1h-1zM428 801h1v1h-1zM429 802h1v1h-1zM430 803h1v1h-1zM431 803h1v1h-1zM432 804h1v1h-1zM433 805h1v1h-1zM434 805h1v1h-1zM435 806h1v1h-1zM436 806h1v1h-1zM437 805h1v1h-1zM438 805h1v1h-1zM439 805h1v1h-1zM440 804h1v1h-1zM441 804h1v1h-1zM442 802h1v2h-1zM443 801h1v1h-1zM444 799h1v2h-1zM445 798h1v1h-1zM446 796h1v2h-1zM447 795h1v1h-1zM448 794h1v1h-1zM449 792h1v2h-1zM450 791h1v1h-1zM451 790h1v1h-1zM452 788h1v2h-1zM453 787h1v1h-1zM454 786h1v1h-1zM455 786h1v1h-1zM456 785h1v1h-1zM457 785h1v1h-1zM458 784h1v1h-1zM459 784h1v1h-1zM460 785h1v1h-1zM461 786h1v1h-1zM462 787h1v1h-1zM463 788h1v1h-1zM464 789h1v1h-1zM465 790h1v1h-1zM466 791h1v1h-1zM467 792h1v2h-1zM468 794h1v1h-1zM469 795h1v1h-1zM470 796h1v2h-1zM471 798h1v1h-1zM472 799h1v1h-1zM473 800h1v2h-1zM474 802h1v1h-1zM475 803h1v1h-1zM476 804h1v2h-1zM477 806h1v1h-1zM478 807h1v2h-1zM479 809h1v2h-1zM480 811h1v2h-1zM481 813h1v2h-1zM482 815h1v2h-1zM483 817h1v2h-1zM484 819h1v1h-1zM485 820h1v1h-1zM486 821h1v1h-1zM487 822h1v1h-1zM488 823h1v1h-1zM489 824h1v1h-1zM490 824h1v1h-1zM491 823h1v1h-1zM492 823h1v1h-1zM493 823h1v1h-1zM494 822h1v1h-1zM495 822h1v1h-1zM496 822h1v1h-1zM497 821h1v1h-1zM498 821h1v1h-1zM499 821h1v1h-1zM500 820h1v1h-1zM501 820h1v1h-1zM502 819h1v1h-1zM503 819h1v1h-1zM504 818h1v1h-1zM505 818h1v1h-1zM506 817h1v1h-1zM507 817h1v1h-1zM508 817h1v1h-1zM509 817h1v1h-1zM510 817h1v1h-1zM511 817h1v1h-1zM512 817h1v1h-1zM513 817h1v2h-1zM514 819h1v2h-1zM515 821h1v2h-1zM516 823h1v3h-1zM517 826h1v2h-1zM518 828h1v2h-1zM519 830h1v2h-1zM520 832h1v1h-1zM521 832h1v1h-1zM522 833h1v1h-1zM523 833h1v1h-1zM524 834h1v1h-1zM525 834h1v1h-1zM526 835h1v1h-1zM527 836h1v1h-1zM528 837h1v1h-1zM529 837h1v1h-1zM530 838h1v1h-1zM531 839h1v1h-1zM532 839h1v1h-1zM533 840h1v1h-1zM534 840h1v1h-1zM535 840h1v1h-1zM536 841h1v1h-1zM537 841h1v1h-1zM538 842h1v1h-1zM539 843h1v2h-1zM540 845h1v1h-1zM541 846h1v1h-1zM542 847h1v2h-1zM543 849h1v1h-1zM544 849h1v1h-1zM545 850h1v1h-1zM546 850h1v1h-1zM547 850h1v1h-1zM548 851h1v1h-1zM549 851h1v1h-1zM550 851h1v1h-1zM551 852h1v1h-1zM552 852h1v1h-1zM553 852h1v1h-1zM554 853h1v1h-1zM555 853h1v1h-1zM556 852h1v1h-1zM557 852h1v1h-1zM558 851h1v1h-1zM559 850h1v1h-1zM560 850h1v1h-1zM561 848h1v2h-1zM562 846h1v2h-1zM563 844h1v2h-1zM564 842h1v2h-1zM565 840h1v2h-1zM566 838h1v2h-1zM567 835h1v3h-1zM568 831h1v4h-1zM569 828h1v3h-1zM570 824h1v4h-1zM571 821h1v3h-1zM572 817h1v4h-1zM573 814h1v3h-1zM574 812h1v2h-1zM575 810h1v2h-1zM576 807h1v3h-1zM577 805h1v2h-1zM578 803h1v2h-1zM579 801h1v2h-1zM580 800h1v1h-1zM581 798h1v2h-1zM582 797h1v1h-1zM583 796h1v1h-1zM584 794h1v2h-1zM585 793h1v1h-1zM586 793h1v1h-1zM587 793h1v1h-1zM588 794h1v1h-1zM589 794h1v1h-1zM590 794h1v1h-1zM591 794h1v1h-1zM592 794h1v1h-1zM593 794h1v1h-1zM594 793h1v1h-1zM595 793h1v1h-1zM596 793h1v1h-1zM597 793h1v1h-1zM598 793h1v1h-1zM599 793h1v1h-1zM600 793h1v1h-1zM601 793h1v1h-1zM602 793h1v1h-1zM603 793h1v1h-1zM604 793h1v1h-1zM605 792h1v1h-1zM606 792h1v1h-1zM607 792h1v1h-1zM608 791h1v1h-1zM609 791h1v1h-1zM610 791h1v1h-1zM611 790h1v1h-1zM612 790h1v1h-1zM613 790h1v1h-1zM614 789h1v1h-1zM615 789h1v1h-1zM616 789h1v1h-1zM617 790h1v1h-1zM618 790h1v1h-1zM619 790h1v1h-1zM620 791h1v1h-1zM621 791h1v1h-1zM622 792h1v1h-1zM623 793h1v1h-1zM624 794h1v1h-1zM625 794h1v1h-1zM626 795h1v1h-1zM627 796h1v1h-1zM628 797h1v1h-1zM629 797h1v1h-1zM630 798h1v1h-1zM631 799h1v1h-1zM632 799h1v1h-1zM633 800h1v1h-1zM634 800h1v1h-1zM635 800h1v1h-1zM636 801h1v1h-1zM637 801h1v1h-1zM638 801h1v1h-1zM639 801h1v1h-1zM640 801h1v1h-1zM641 801h1v1h-1zM642 800h1v1h-1zM643 800h1v1h-1zM644 800h1v1h-1zM645 800h1v1h-1zM646 799h1v1h-1zM647 799h1v1h-1zM648 798h1v1h-1zM649 798h1v1h-1zM650 797h1v1h-1zM651 797h1v1h-1zM652 798h1v1h-1zM653 799h1v2h-1zM654 801h1v1h-1zM655 802h1v1h-1zM656 803h1v2h-1zM657 805h1v1h-1zM658 806h1v1h-1zM659 806h1v1h-1zM660 807h1v1h-1zM661 808h1v1h-1zM662 808h1v1h-1zM663 809h1v1h-1zM664 808h1v1h-1zM665 808h1v1h-1zM666 807h1v1h-1zM667 807h1v1h-1zM668 806h1v1h-1zM669 806h1v1h-1zM670 806h1v1h-1zM671 806h1v1h-1zM672 805h1v1h-1zM673 805h1v1h-1zM674 805h1v1h-1zM675 805h1v1h-1zM676 804h1v1h-1zM677 803h1v1h-1zM678 802h1v1h-1zM679 802h1v1h-1zM680 801h1v1h-1zM681 800h1v1h-1zM682 800h1v1h-1zM683 801h1v1h-1zM684 801h1v1h-1zM685 801h1v1h-1zM686 802h1v1h-1zM687 802h1v1h-1zM688 803h1v1h-1zM689 803h1v1h-1zM690 804h1v1h-1zM691 805h1v1h-1zM692 805h1v1h-1zM693 806h1v1h-1zM694 807h1v1h-1zM695 808h1v1h-1zM696 809h1v1h-1zM697 810h1v1h-1zM698 811h1v1h-1zM699 812h1v1h-1zM700 812h1v1h-1zM701 812h1v1h-1zM702 812h1v1h-1zM703 812h1v1h-1zM704 812h1v1h-1zM705 812h1v1h-1zM706 812h1v1h-1zM707 812h1v1h-1zM708 811h1v1h-1zM709 811h1v1h-1zM710 811h1v1h-1zM711 811h1v1h-1z" fill="#000" shape-rendering="crispEdges"/>
<g shape-rendering="crispEdges">
<rect x="93" y="357" width="1" height="23" fill="#60a55e"/>
<rect x="91" y="360" width="5" height="7" fill="#60a55e"/>
<rect x="99" y="366" width="1" height="24" fill="#60a55e"/>
<rect x="97" y="368" width="5" height="14" fill="#60a55e"/>
<rect x="105" y="341" width="1" height="10" fill="#d2453c"/>
<rect x="105" y="399" width="1" height="5" fill="#d2453c"/>
<rect x="103.5" y="351.5" width="4" height="47" fill="#fff" stroke="#d2453c" stroke-width="1"/>
<rect x="111" y="329" width="1" height="16" fill="#d2453c"/>
<rect x="111" y="350" width="1" height="13" fill="#d2453c"/>
<rect x="109.5" y="345.5" width="4" height="4" fill="#fff" stroke="#d2453c" stroke-width="1"/>
<rect x="117" y="328" width="1" height="27" fill="#d2453c"/>
<rect x="115" y="343" width="5" height="2" fill="#d2453c"/>
<rect x="123" y="334" width="1" height="48" fill="#60a55e"/>
<rect x="121" y="343" width="5" height="31" fill="#60a55e"/>
<rect x="129" y="332" width="1" height="1" fill="#d2453c"/>
<rect x="129" y="374" width="1" height="7" fill="#d2453c"/>
<rect x="127.5" y="333.5" width="4" height="40" fill="#fff" stroke="#d2453c" stroke-width="1"/>
<rect x="135" y="313" width="1" height="61" fill="#60a55e"/>
<rect x="133" y="335" width="5" height="39" fill="#60a55e"/>
<rect x="141" y="367" width="1" height="20" fill="#60a55e"/>
<rect x="139" y="374" width="5" height="2" fill="#60a55e"/>
<rect x="147" y="370" width="1" height="33" fill="#60a55e"/>
<rect x="145" y="377" width="5" height="2" fill="#60a55e"/>
<rect x="153" y="384" width="1" height="2" fill="#d2453c"/>
<rect x="153" y="406" width="1" height="6" fill="#d2453c"/>
<rect x="151.5" y="386.5" width="4" height="19" fill="#fff" stroke="#d2453c" stroke-width="1"/>
<rect x="159" y="358" width="1" height="35" fill="#60a55e"/>
<rect x="157" y="386" width="5" height="6" fill="#60a55e"/>
<rect x="165" y="382" width="1" height="26" fill="#60a55e"/>
<rect x="163" y="391" width="5" height="6" fill="#60a55e"/>
<rect x="171" y="394" width="1" height="23" fill="#60a55e"/>
<rect x="169" y="397" width="5" height="7" fill="#60a55e"/>
<rect x="177" y="396" width="1" height="23" fill="#60a55e"/>
<rect x="175" y="403" width="5" height="2" fill="#60a55e"/>
<rect x="183" y="383" width="1" height="6" fill="#d2453c"/>
<rect x="183" y="405" width="1" height="1" fill="#d2453c"/>
<rect x="181.5" y="389.5" width="4" height="15" fill="#fff" stroke="#d2453c" stroke-width="1"/>
<rect x="189" y="375" width="1" height="38" fill="#60a55e"/>
<rect x="187" y="389" width="5" height="23" fill="#60a55e"/>
<rect x="195" y="367" width="1" height="4" fill="#d2453c"/>
<rect x="195" y="410" width="1" height="2" fill="#d2453c"/>
<rect x="193.5" y="371.5" width="4" height="38" fill="#fff" stroke="#d2453c" stroke-width="1"/>
<rect x="201" y="311" width="1" height="12" fill="#d2453c"/>
<rect x="201" y="370" width="1" height="10" fill="#d2453c"/>
<rect x="199.5" y="323.5" width="4" height="46" fill="#fff" stroke="#d2453c" stroke-width="1"/>
<rect x="207" y="294" width="1" height="6" fill="#d2453c"/>
<rect x="207" y="321" width="1" height="18" fill="#d2453c"/>
<rect x="205.5" y="300.5" width="4" height="20" fill="#fff" stroke="#d2453c" stroke-width="1"/>
<rect x="213" y="300" width="1" height="36" fill="#60a55e"/>
<rect x="211" y="300" width="5" height="20" fill="#60a55e"/>
<rect x="219" y="314" width="1" height="55" fill="#60a55e"/>
<rect x="217" y="322" width="5" height="43" fill="#60a55e"/>
<rect x="225" y="354" width="1" height="49" fill="#60a55e"/>
<rect x="223" y="374" width="5" height="13" fill="#60a55e"/>
<rect x="231" y="383" width="1" height="29" fill="#60a55e"/>
<rect x="229" y="388" width="5" height="22" fill="#60a55e"/>
<rect x="237" y="375" width="1" height="67" fill="#60a55e"/>
<rect x="235" y="410" width="5" height="19" fill="#60a55e"/>
<rect x="243" y="410" width="1" height="31" fill="#60a55e"/>
<rect x="241" y="427" width="5" height="12" fill="#60a55e"/>
<rect x="249" y="422" width="1" height="39" fill="#60a55e"/>
<rect x="247" y="438" width="5" height="11" fill="#60a55e"/>
<rect x="255" y="425" width="1" height="10" fill="#d2453c"/>
<rect x="255" y="446" width="1" height="9" fill="#d2453c"/>
<rect x="253.5" y="435.5" width="4" height="10" fill="#fff" stroke="#d2453c" stroke-width="1"/>
<rect x="261" y="427" width="1" height="28" fill="#60a55e"/>
<rect x="259" y="434" width="5" height="21" fill="#60a55e"/>
<rect x="267" y="447" width="1" height="31" fill="#60a55e"/>
<rect x="265" y="455" width="5" height="7" fill="#60a55e"/>
<rect x="273" y="432" width="1" height="5" fill="#d2453c"/>
<rect x="273" y="461" width="1" height="4" fill="#d2453c"/>
<rect x="271.5" y="437.5" width="4" height="23" fill="#fff" stroke="#d2453c" stroke-width="1"/>
<rect x="279" y="431" width="1" height="31" fill="#60a55e"/>
<rect x="277" y="437" width="5" height="17" fill="#60a55e"/>
<rect x="285" y="455" width="1" height="11" fill="#d2453c"/>
<rect x="285" y="474" width="1" height="15" fill="#d2453c"/>
<rect x="283.5" y="466.5" width="4" height="7" fill="#fff" stroke="#d2453c" stroke-width="1"/>
<rect x="291" y="462" width="1" height="23" fill="#60a55e"/>
<rect x="289" y="466" width="5" height="12" fill="#60a55e"/>
<rect x="297" y="455" width="1" height="5" fill="#d2453c"/>
<rect x="297" y="479" width="1" height="2" fill="#d2453c"/>
<rect x="295.5" y="460.5" width="4" height="18" fill="#fff" stroke="#d2453c" stroke-width="1"/>
<rect x="303" y="441" width="1" height="5" fill="#d2453c"/>
<rect x="303" y="460" width="1" height="6" fill="#d2453c"/>
<rect x="301.5" y="446.5" width="4" height="13" fill="#fff" stroke="#d2453c" stroke-width="1"/>
<rect x="309" y="436" width="1" height="4" fill="#d2453c"/>
<rect x="309" y="446" width="1" height="3" fill="#d2453c"/>
<rect x="307.5" y="440.5" width="4" height="5" fill="#fff" stroke="#d2453c" stroke-width="1"/>
<rect x="315" y="411" width="1" height="8" fill="#d2453c"/>
<rect x="315" y="438" width="1" height="6" fill="#d2453c"/>
<rect x="313.5" y="419.5" width="4" height="18" fill="#fff" stroke="#d2453c" stroke-width="1"/>
<rect x="321" y="418" width="1" height="35" fill="#60a55e"/>
<rect x="319" y="419" width="5" height="31" fill="#60a55e"/>
<rect x="327" y="429" width="1" height="9" fill="#d2453c"/>
<rect x="327" y="450" width="1" height="7" fill="#d2453c"/>
<rect x="325.5" y="438.5" width="4" height="11" fill="#fff" stroke="#d2453c" stroke-width="1"/>
<rect x="333" y="419" width="1" height="9" fill="#d2453c"/>
<rect x="333" y="438" width="1" height="10" fill="#d2453c"/>
<rect x="331.5" y="428.5" width="4" height="9" fill="#fff" stroke="#d2453c" stroke-width="1"/>
<rect x="339" y="422" width="1" height="15" fill="#60a55e"/>
<rect x="337" y="428" width="5" height="7" fill="#60a55e"/>
<rect x="345" y="415" width="1" height="7" fill="#d2453c"/>
<rect x="345" y="436" width="1" height="5" fill="#d2453c"/>
<rect x="343.5" y="422.5" width="4" height="13" fill="#fff" stroke="#d2453c" stroke-width="1"/>
<rect x="351" y="391" width="1" height="9" fill="#d2453c"/>
<rect x="351" y="421" width="1" height="20" fill="#d2453c"/>
<rect x="349.5" y="400.5" width="4" height="20" fill="#fff" stroke="#d2453c" stroke-width="1"/>
<rect x="357" y="397" width="1" height="43" fill="#60a55e"/>
<rect x="355" y="400" width="5" height="40" fill="#60a55e"/>
<rect x="363" y="438" width="1" height="24" fill="#60a55e"/>
<rect x="361" y="439" width="5" height="10" fill="#60a55e"/>
<rect x="369" y="445" width="1" height="44" fill="#60a55e"/>
<rect x="367" y="450" width="5" height="29" fill="#60a55e"/>
<rect x="375" y="448" width="1" height="20" fill="#d2453c"/>
<rect x="375" y="478" width="1" height="2" fill="#d2453c"/>
<rect x="373.5" y="468.5" width="4" height="9" fill="#fff" stroke="#d2453c" stroke-width="1"/>
<rect x="381" y="441" width="1" height="21" fill="#d2453c"/>
<rect x="379.5" y="462.5" width="4" height="6" fill="#fff" stroke="#d2453c" stroke-width="1"/>
<rect x="387" y="432" width="1" height="9" fill="#d2453c"/>
<rect x="385.5" y="441.5" width="4" height="20" fill="#fff" stroke="#d2453c" stroke-width="1"/>
<rect x="393" y="438" width="1" height="35" fill="#60a55e"/>
<rect x="391" y="439" width="5" height="34" fill="#60a55e"/>
<rect x="399" y="435" width="1" height="30" fill="#d2453c"/>
<rect x="399" y="472" width="1" height="12" fill="#d2453c"/>
<rect x="397.5" y="465.5" width="4" height="6" fill="#fff" stroke="#d2453c" stroke-width="1"/>
<rect x="405" y="441" width="1" height="1" fill="#d2453c"/>
<rect x="405" y="457" width="1" height="9" fill="#d2453c"/>
<rect x="403.5" y="442.5" width="4" height="14" fill="#fff" stroke="#d2453c" stroke-width="1"/>
<rect x="411" y="418" width="1" height="5" fill="#d2453c"/>
<rect x="411" y="450" width="1" height="8" fill="#d2453c"/>
<rect x="409.5" y="423.5" width="4" height="26" fill="#fff" stroke="#d2453c" stroke-width="1"/>
<rect x="417" y="420" width="1" height="21" fill="#60a55e"/>
<rect x="415" y="423" width="5" height="13" fill="#60a55e"/>
<rect x="423" y="430" width="1" height="25" fill="#60a55e"/>
<rect x="421" y="444" width="5" height="6" fill="#60a55e"/>
<rect x="429" y="448" width="1" height="25" fill="#60a55e"/>
<rect x="427" y="451" width="5" height="19" fill="#60a55e"/>
<rect x="435" y="456" width="1" height="29" fill="#d2453c"/>
<rect x="433" y="471" width="5" height="1" fill="#d2453c"/>
<rect x="441" y="437" width="1" height="6" fill="#d2453c"/>
<rect x="441" y="471" width="1" height="9" fill="#d2453c"/>
<rect x="439.5" y="443.5" width="4" height="27" fill="#fff" stroke="#d2453c" stroke-width="1"/>
<rect x="447" y="412" width="1" height="6" fill="#d2453c"/>
<rect x="447" y="443" width="1" height="7" fill="#d2453c"/>
<rect x="445.5" y="418.5" width="4" height="24" fill="#fff" stroke="#d2453c" stroke-width="1"/>
<rect x="453" y="405" width="1" height="4" fill="#d2453c"/>
<rect x="453" y="418" width="1" height="15" fill="#d2453c"/>
<rect x="451.5" y="409.5" width="4" height="8" fill="#fff" stroke="#d2453c" stroke-width="1"/>
<rect x="459" y="383" width="1" height="37" fill="#60a55e"/>
<rect x="457" y="409" width="5" height="1" fill="#60a55e"/>
<rect x="465" y="404" width="1" height="52" fill="#60a55e"/>
<rect x="463" y="412" width="5" height="41" fill="#60a55e"/>
<rect x="471" y="450" width="1" height="26" fill="#60a55e"/>
<rect x="469" y="454" width="5" height="15" fill="#60a55e"/>
<rect x="477" y="458" width="1" height="32" fill="#60a55e"/>
<rect x="475" y="468" width="5" height="14" fill="#60a55e"/>
<rect x="483" y="465" width="1" height="46" fill="#60a55e"/>
<rect x="481" y="483" width="5" height="23" fill="#60a55e"/>
<rect x="489" y="490" width="1" height="18" fill="#60a55e"/>
<rect x="487" y="505" width="5" height="2" fill="#60a55e"/>
<rect x="495" y="474" width="1" height="10" fill="#d2453c"/>
<rect x="495" y="497" width="1" height="1" fill="#d2453c"/>
<rect x="493.5" y="484.5" width="4" height="12" fill="#fff" stroke="#d2453c" stroke-width="1"/>
<rect x="501" y="475" width="1" height="2" fill="#d2453c"/>
<rect x="501" y="484" width="1" height="21" fill="#d2453c"/>
<rect x="499.5" y="477.5" width="4" height="6" fill="#fff" stroke="#d2453c" stroke-width="1"/>
<rect x="507" y="457" width="1" height="15" fill="#d2453c"/>
<rect x="505.5" y="472.5" width="4" height="4" fill="#fff" stroke="#d2453c" stroke-width="1"/>
<rect x="513" y="458" width="1" height="35" fill="#60a55e"/>
<rect x="511" y="471" width="5" height="17" fill="#60a55e"/>
<rect x="519" y="484" width="1" height="75" fill="#60a55e"/>
<rect x="517" y="489" width="5" height="70" fill="#60a55e"/>
<rect x="525" y="516" width="1" height="14" fill="#d2453c"/>
<rect x="523.5" y="530.5" width="4" height="11" fill="#fff" stroke="#d2453c" stroke-width="1"/>
<rect x="531" y="524" width="1" height="46" fill="#60a55e"/>
<rect x="529" y="530" width="5" height="21" fill="#60a55e"/>
<rect x="537" y="532" width="1" height="16" fill="#d2453c"/>
<rect x="537" y="551" width="1" height="8" fill="#d2453c"/>
<rect x="535.5" y="548.5" width="4" height="2" fill="#fff" stroke="#d2453c" stroke-width="1"/>
<rect x="543" y="549" width="1" height="40" fill="#60a55e"/>
<rect x="541" y="557" width="5" height="29" fill="#60a55e"/>
<rect x="549" y="577" width="1" height="4" fill="#d2453c"/>
<rect x="549" y="585" width="1" height="18" fill="#d2453c"/>
<rect x="547.5" y="581.5" width="4" height="3" fill="#fff" stroke="#d2453c" stroke-width="1"/>
<rect x="555" y="575" width="1" height="30" fill="#60a55e"/>
<rect x="553" y="578" width="5" height="9" fill="#60a55e"/>
<rect x="561" y="561" width="1" height="12" fill="#d2453c"/>
<rect x="561" y="588" width="1" height="10" fill="#d2453c"/>
<rect x="559.5" y="573.5" width="4" height="14" fill="#fff" stroke="#d2453c" stroke-width="1"/>
<rect x="567" y="524" width="1" height="10" fill="#d2453c"/>
<rect x="567" y="573" width="1" height="4" fill="#d2453c"/>
<rect x="565.5" y="534.5" width="4" height="38" fill="#fff" stroke="#d2453c" stroke-width="1"/>
<rect x="573" y="473" width="1" height="10" fill="#d2453c"/>
<rect x="573" y="522" width="1" height="6" fill="#d2453c"/>
<rect x="571.5" y="483.5" width="4" height="38" fill="#fff" stroke="#d2453c" stroke-width="1"/>
<rect x="579" y="464" width="1" height="30" fill="#60a55e"/>
<rect x="577" y="483" width="5" height="7" fill="#60a55e"/>
<rect x="585" y="474" width="1" height="32" fill="#60a55e"/>
<rect x="583" y="482" width="5" height="6" fill="#60a55e"/>
<rect x="591" y="488" width="1" height="37" fill="#60a55e"/>
<rect x="589" y="489" width="5" height="28" fill="#60a55e"/>
<rect x="597" y="498" width="1" height="15" fill="#d2453c"/>
<rect x="597" y="517" width="1" height="9" fill="#d2453c"/>
<rect x="595.5" y="513.5" width="4" height="3" fill="#fff" stroke="#d2453c" stroke-width="1"/>
<rect x="603" y="503" width="1" height="25" fill="#60a55e"/>
<rect x="601" y="513" width="5" height="2" fill="#60a55e"/>
<rect x="609" y="490" width="1" height="12" fill="#d2453c"/>
<rect x="609" y="515" width="1" height="5" fill="#d2453c"/>
<rect x="607.5" y="502.5" width="4" height="12" fill="#fff" stroke="#d2453c" stroke-width="1"/>
<rect x="615" y="488" width="1" height="21" fill="#60a55e"/>
<rect x="613" y="491" width="5" height="8" fill="#60a55e"/>
<rect x="621" y="498" width="1" height="23" fill="#60a55e"/>
<rect x="619" y="499" width="5" height="13" fill="#60a55e"/>
<rect x="627" y="497" width="1" height="33" fill="#60a55e"/>
<rect x="625" y="512" width="5" height="17" fill="#60a55e"/>
<rect x="633" y="509" width="1" height="36" fill="#60a55e"/>
<rect x="631" y="528" width="5" height="3" fill="#60a55e"/>
<rect x="639" y="510" width="1" height="14" fill="#d2453c"/>
<rect x="639" y="528" width="1" height="7" fill="#d2453c"/>
<rect x="637.5" y="524.5" width="4" height="3" fill="#fff" stroke="#d2453c" stroke-width="1"/>
<rect x="645" y="510" width="1" height="10" fill="#d2453c"/>
<rect x="645" y="524" width="1" height="9" fill="#d2453c"/>
<rect x="643.5" y="520.5" width="4" height="3" fill="#fff" stroke="#d2453c" stroke-width="1"/>
<rect x="651" y="493" width="1" height="6" fill="#d2453c"/>
<rect x="651" y="519" width="1" height="8" fill="#d2453c"/>
<rect x="649.5" y="499.5" width="4" height="19" fill="#fff" stroke="#d2453c" stroke-width="1"/>
<rect x="657" y="497" width="1" height="59" fill="#60a55e"/>
<rect x="655" y="498" width="5" height="56" fill="#60a55e"/>
<rect x="663" y="537" width="1" height="14" fill="#d2453c"/>
<rect x="663" y="554" width="1" height="6" fill="#d2453c"/>
<rect x="661.5" y="551.5" width="4" height="2" fill="#fff" stroke="#d2453c" stroke-width="1"/>
<rect x="669" y="506" width="1" height="16" fill="#d2453c"/>
<rect x="667.5" y="522.5" width="4" height="26" fill="#fff" stroke="#d2453c" stroke-width="1"/>
<rect x="675" y="511" width="1" height="24" fill="#60a55e"/>
<rect x="673" y="525" width="5" height="2" fill="#60a55e"/>
<rect x="681" y="502" width="1" height="7" fill="#d2453c"/>
<rect x="681" y="527" width="1" height="9" fill="#d2453c"/>
<rect x="679.5" y="509.5" width="4" height="17" fill="#fff" stroke="#d2453c" stroke-width="1"/>
<rect x="687" y="505" width="1" height="44" fill="#60a55e"/>
<rect x="685" y="510" width="5" height="24" fill="#60a55e"/>
<rect x="693" y="518" width="1" height="32" fill="#60a55e"/>
<rect x="691" y="534" width="5" height="14" fill="#60a55e"/>
<rect x="699" y="546" width="1" height="30" fill="#60a55e"/>
<rect x="697" y="547" width="5" height="17" fill="#60a55e"/>
<rect x="705" y="540" width="1" height="5" fill="#d2453c"/>
<rect x="705" y="563" width="1" height="12" fill="#d2453c"/>
<rect x="703.5" y="545.5" width="4" height="17" fill="#fff" stroke="#d2453c" stroke-width="1"/>
<rect x="711" y="542" width="1" height="5" fill="#60a55e"/>
<rect x="709" y="545" width="5" height="2" fill="#60a55e"/>
</g>
<line x1="90" x2="939" y1="546.5" y2="546.5" stroke="#1e8bf0" stroke-dasharray="3 3" shape-rendering="crispEdges"/>
<path d="M93 338h1v1h-1zM94 338h1v1h-1zM95 338h1v1h-1zM96 338h1v1h-1zM97 338h1v1h-1zM98 339h1v1h-1zM99 339h1v1h-1zM100 339h1v1h-1zM101 339h1v1h-1zM102 339h1v1h-1zM103 339h1v1h-1zM104 339h1v1h-1zM105 339h1v1h-1zM106 339h1v1h-1zM107 339h1v1h-1zM108 339h1v1h-1zM109 339h1v1h-1zM110 339h1v1h-1zM111 339h1v1h-1zM112 339h1v1h-1zM113 339h1v1h-1zM114 339h1v1h-1zM115 339h1v1h-1zM116 339h1v1h-1zM117 339h1v1h-1zM118 339h1v1h-1zM119 339h1v1h-1zM120 339h1v1h-1zM121 339h1v1h-1zM122 339h1v1h-1zM123 339h1v1h-1zM124 339h1v1h-1zM125 339h1v1h-1zM126 339h1v1h-1zM127 339h1v1h-1zM128 339h1v1h-1zM129 339h1v1h-1zM130 339h1v1h-1zM131 339h1v1h-1zM132 339h1v1h-1zM133 339h1v1h-1zM134 339h1v1h-1zM135 339h1v1h-1zM136 339h1v1h-1zM137 340h1v1h-1zM138 340h1v1h-1zM139 340h1v1h-1zM140 341h1v1h-1zM141 341h1v1h-1zM142 341h1v1h-1zM143 341h1v1h-1zM144 341h1v1h-1zM145 341h1v1h-1zM146 341h1v1h-1zM147 341h1v1h-1zM148 341h1v1h-1zM149 342h1v1h-1zM150 342h1v1h-1zM151 342h1v1h-1zM152 343h1v1h-1zM153 343h1v1h-1zM154 343h1v1h-1zM155 343h1v1h-1zM156 343h1v1h-1zM157 343h1v1h-1zM158 343h1v1h-1zM159 343h1v1h-1zM160 343h1v1h-1zM161 343h1v1h-1zM162 344h1v1h-1zM163 344h1v1h-1zM164 344h1v1h-1zM165 344h1v1h-1zM166 344h1v1h-1zM167 344h1v1h-1zM168 345h1v1h-1zM169 345h1v1h-1zM170 345h1v1h-1zM171 345h1v1h-1zM172 345h1v1h-1zM173 345h1v1h-1zM174 346h1v1h-1zM175 346h1v1h-1zM176 346h1v1h-1zM177 346h1v1h-1zM178 346h1v1h-1zM179 346h1v1h-1zM180 347h1v1h-1zM181 347h1v1h-1zM182 347h1v1h-1zM183 347h1v1h-1zM184 347h1v1h-1zM185 347h1v1h-1zM186 348h1v1h-1zM187 348h1v1h-1zM188 348h1v1h-1zM189 348h1v1h-1zM190 348h1v1h-1zM191 348h1v1h-1zM192 348h1v1h-1zM193 348h1v1h-1zM194 348h1v1h-1zM195 348h1v1h-1zM196 348h1v1h-1zM197 348h1v1h-1zM198 348h1v1h-1zM199 348h1v1h-1zM200 348h1v1h-1zM201 348h1v1h-1zM202 348h1v1h-1zM203 348h1v1h-1zM204 348h1v1h-1zM205 348h1v1h-1zM206 348h1v1h-1zM207 348h1v1h-1zM208 348h1v1h-1zM209 348h1v1h-1zM210 348h1v1h-1zM211 348h1v1h-1zM212 348h1v1h-1zM213 348h1v1h-1zM214 348h1v1h-1zM215 348h1v1h-1zM216 349h1v1h-1zM217 349h1v1h-1zM218 349h1v1h-1zM219 349h1v1h-1zM220 349h1v1h-1zM221 349h1v1h-1zM222 349h1v1h-1zM223 349h1v1h-1zM224 349h1v1h-1zM225 349h1v1h-1zM226 349h1v1h-1zM227 349h1v1h-1zM228 350h1v1h-1zM229 350h1v1h-1zM230 350h1v1h-1zM231 350h1v1h-1zM232 350h1v1h-1zM233 350h1v1h-1zM234 350h1v1h-1zM235 350h1v1h-1zM236 350h1v1h-1zM237 351h1v1h-1zM238 351h1v1h-1zM239 351h1v1h-1zM240 351h1v1h-1zM241 351h1v1h-1zM242 351h1v1h-1zM243 351h1v1h-1zM244 351h1v1h-1zM245 351h1v1h-1zM246 351h1v1h-1zM247 351h1v1h-1zM248 351h1v1h-1zM249 352h1v1h-1zM250 352h1v1h-1zM251 352h1v1h-1zM252 352h1v1h-1zM253 352h1v1h-1zM254 352h1v1h-1zM255 352h1v1h-1zM256 352h1v1h-1zM257 352h1v1h-1zM258 353h1v1h-1zM259 353h1v1h-1zM260 353h1v1h-1zM261 353h1v1h-1zM262 353h1v1h-1zM263 353h1v1h-1zM264 353h1v1h-1zM265 353h1v1h-1zM266 353h1v1h-1zM267 353h1v1h-1zM268 353h1v1h-1zM269 353h1v1h-1zM270 353h1v1h-1zM271 353h1v1h-1zM272 353h1v1h-1zM273 354h1v1h-1zM274 354h1v1h-1zM275 354h1v1h-1zM276 354h1v1h-1zM277 354h1v1h-1zM278 354h1v1h-1zM279 355h1v1h-1zM280 355h1v1h-1zM281 355h1v1h-1zM282 355h1v1h-1zM283 355h1v1h-1zM284 355h1v1h-1zM285 356h1v1h-1zM286 356h1v1h-1zM287 356h1v1h-1zM288 356h1v1h-1zM289 357h1v1h-1zM290 357h1v1h-1zM291 357h1v1h-1zM292 357h1v1h-1zM293 357h1v1h-1zM294 358h1v1h-1zM295 358h1v1h-1zM296 358h1v1h-1zM297 358h1v1h-1zM298 359h1v1h-1zM299 359h1v1h-1zM300 359h1v1h-1zM301 359h1v1h-1zM302 359h1v1h-1zM303 359h1v1h-1zM304 359h1v1h-1zM305 359h1v1h-1zM306 359h1v1h-1zM307 359h1v1h-1zM308 359h1v1h-1zM309 359h1v1h-1zM310 360h1v1h-1zM311 360h1v1h-1zM312 360h1v1h-1zM313 360h1v1h-1zM314 360h1v1h-1zM315 360h1v1h-1zM316 360h1v1h-1zM317 360h1v1h-1zM318 360h1v1h-1zM319 360h1v1h-1zM320 360h1v1h-1zM321 360h1v1h-1zM322 360h1v1h-1zM323 360h1v1h-1zM324 360h1v1h-1zM325 360h1v1h-1zM326 361h1v1h-1zM327 361h1v1h-1zM328 361h1v1h-1zM329 361h1v1h-1zM330 361h1v1h-1zM331 361h1v1h-1zM332 361h1v1h-1zM333 361h1v1h-1zM334 361h1v1h-1zM335 361h1v1h-1zM336 361h1v1h-1zM337 362h1v1h-1zM338 362h1v1h-1zM339 362h1v1h-1zM340 362h1v1h-1zM341 362h1v1h-1zM342 362h1v1h-1zM343 362h1v1h-1zM344 362h1v1h-1zM345 362h1v1h-1zM346 362h1v1h-1zM347 363h1v1h-1zM348 363h1v1h-1zM349 363h1v1h-1zM350 363h1v1h-1zM351 363h1v1h-1zM352 363h1v1h-1zM353 363h1v1h-1zM354 363h1v1h-1zM355 363h1v1h-1zM356 363h1v1h-1zM357 364h1v1h-1zM358 364h1v1h-1zM359 364h1v1h-1zM360 364h1v1h-1zM361 364h1v1h-1zM362 364h1v1h-1zM363 364h1v1h-1zM364 364h1v1h-1zM365 364h1v1h-1zM366 365h1v1h-1zM367 365h1v1h-1zM368 365h1v1h-1zM369 365h1v1h-1zM370 365h1v1h-1zM371 365h1v1h-1zM372 365h1v1h-1zM373 365h1v1h-1zM374 365h1v1h-1zM375 365h1v1h-1zM376 366h1v1h-1zM377 366h1v1h-1zM378 366h1v1h-1zM379 366h1v1h-1zM380 366h1v1h-1zM381 366h1v1h-1zM382 366h1v1h-1zM383 366h1v1h-1zM384 366h1v1h-1zM385 366h1v1h-1zM386 366h1v1h-1zM387 366h1v1h-1zM388 366h1v1h-1zM389 366h1v1h-1zM390 366h1v1h-1zM391 366h1v1h-1zM392 366h1v1h-1zM393 367h1v1h-1zM394 367h1v1h-1zM395 367h1v1h-1zM396 367h1v1h-1zM397 368h1v1h-1zM398 368h1v1h-1zM399 368h1v1h-1zM400 368h1v1h-1zM401 368h1v1h-1zM402 368h1v1h-1zM403 368h1v1h-1zM404 369h1v1h-1zM405 369h1v1h-1zM406 369h1v1h-1zM407 369h1v1h-1zM408 369h1v1h-1zM409 369h1v1h-1zM410 369h1v1h-1zM411 369h1v1h-1zM412 369h1v1h-1zM413 369h1v1h-1zM414 369h1v1h-1zM415 370h1v1h-1zM416 370h1v1h-1zM417 370h1v1h-1zM418 370h1v1h-1zM419 370h1v1h-1zM420 370h1v1h-1zM421 370h1v1h-1zM422 370h1v1h-1zM423 370h1v1h-1zM424 370h1v1h-1zM425 370h1v1h-1zM426 370h1v1h-1zM427 370h1v1h-1zM428 370h1v1h-1zM429 370h1v1h-1zM430 370h1v1h-1zM431 370h1v1h-1zM432 370h1v1h-1zM433 370h1v1h-1zM434 370h1v1h-1zM435 371h1v1h-1zM436 371h1v1h-1zM437 371h1v1h-1zM438 372h1v1h-1zM439 372h1v1h-1zM440 372h1v1h-1zM441 372h1v1h-1zM442 372h1v1h-1zM443 372h1v1h-1zM444 372h1v1h-1zM445 372h1v1h-1zM446 372h1v1h-1zM447 372h1v1h-1zM448 372h1v1h-1zM449 372h1v1h-1zM450 372h1v1h-1zM451 373h1v1h-1zM452 373h1v1h-1zM453 373h1v1h-1zM454 373h1v1h-1zM455 373h1v1h-1zM456 373h1v1h-1zM457 373h1v1h-1zM458 373h1v1h-1zM459 373h1v1h-1zM460 373h1v1h-1zM461 373h1v1h-1zM462 373h1v1h-1zM463 373h1v1h-1zM464 373h1v1h-1zM465 374h1v1h-1zM466 374h1v1h-1zM467 374h1v1h-1zM468 375h1v1h-1zM469 375h1v1h-1zM470 375h1v1h-1zM471 375h1v1h-1zM472 375h1v1h-1zM473 376h1v1h-1zM474 376h1v1h-1zM475 376h1v1h-1zM476 376h1v1h-1zM477 376h1v1h-1zM478 376h1v1h-1zM479 377h1v1h-1zM480 377h1v1h-1zM481 377h1v1h-1zM482 377h1v1h-1zM483 377h1v1h-1zM484 378h1v1h-1zM485 378h1v1h-1zM486 378h1v1h-1zM487 378h1v1h-1zM488 378h1v1h-1zM489 378h1v1h-1zM490 379h1v1h-1zM491 379h1v1h-1zM492 379h1v1h-1zM493 379h1v1h-1zM494 379h1v1h-1zM495 379h1v1h-1zM496 379h1v1h-1zM497 379h1v1h-1zM498 379h1v1h-1zM499 380h1v1h-1zM500 380h1v1h-1zM501 380h1v1h-1zM502 380h1v1h-1zM503 380h1v1h-1zM504 380h1v1h-1zM505 380h1v1h-1zM506 380h1v1h-1zM507 380h1v1h-1zM508 381h1v1h-1zM509 381h1v1h-1zM510 381h1v1h-1zM511 381h1v1h-1zM512 381h1v1h-1zM513 382h1v1h-1zM514 382h1v1h-1zM515 382h1v1h-1zM516 383h1v1h-1zM517 383h1v1h-1zM518 383h1v1h-1zM519 383h1v1h-1zM520 384h1v1h-1zM521 384h1v1h-1zM522 384h1v1h-1zM523 384h1v1h-1zM524 384h1v1h-1zM525 385h1v1h-1zM526 385h1v1h-1zM527 385h1v1h-1zM528 385h1v1h-1zM529 386h1v1h-1zM530 386h1v1h-1zM531 386h1v1h-1zM532 386h1v1h-1zM533 387h1v1h-1zM534 387h1v1h-1zM535 387h1v1h-1zM536 387h1v1h-1zM537 388h1v1h-1zM538 388h1v1h-1zM539 388h1v1h-1zM540 388h1v1h-1zM541 389h1v1h-1zM542 389h1v1h-1zM543 389h1v1h-1zM544 389h1v1h-1zM545 389h1v1h-1zM546 390h1v1h-1zM547 390h1v1h-1zM548 390h1v1h-1zM549 390h1v1h-1zM550 391h1v1h-1zM551 391h1v1h-1zM552 391h1v1h-1zM553 392h1v1h-1zM554 392h1v1h-1zM555 393h1v1h-1zM556 394h1v1h-1zM557 394h1v1h-1zM558 395h1v1h-1zM559 395h1v1h-1zM560 396h1v1h-1zM561 396h1v1h-1zM562 396h1v1h-1zM563 396h1v1h-1zM564 397h1v1h-1zM565 397h1v1h-1zM566 397h1v1h-1zM567 397h1v1h-1zM568 398h1v1h-1zM569 398h1v1h-1zM570 398h1v1h-1zM571 398h1v1h-1zM572 399h1v1h-1zM573 399h1v1h-1zM574 399h1v1h-1zM575 400h1v1h-1zM576 400h1v1h-1zM577 400h1v1h-1zM578 400h1v1h-1zM579 401h1v1h-1zM580 401h1v1h-1zM581 401h1v1h-1zM582 402h1v1h-1zM583 402h1v1h-1zM584 402h1v1h-1zM585 403h1v1h-1zM586 403h1v1h-1zM587 403h1v1h-1zM588 403h1v1h-1zM589 404h1v1h-1zM590 404h1v1h-1zM591 404h1v1h-1zM592 405h1v1h-1zM593 405h1v1h-1zM594 405h1v1h-1zM595 406h1v1h-1zM596 406h1v1h-1zM597 406h1v1h-1zM598 406h1v1h-1zM599 407h1v1h-1zM600 407h1v1h-1zM601 407h1v1h-1zM602 408h1v1h-1zM603 408h1v1h-1zM604 408h1v1h-1zM605 409h1v1h-1zM606 409h1v1h-1zM607 409h1v1h-1zM608 409h1v1h-1zM609 410h1v1h-1zM610 410h1v1h-1zM611 410h1v1h-1zM612 410h1v1h-1zM613 411h1v1h-1zM614 411h1v1h-1zM615 411h1v1h-1zM616 411h1v1h-1zM617 411h1v1h-1zM618 412h1v1h-1zM619 412h1v1h-1zM620 412h1v1h-1zM621 412h1v1h-1zM622 412h1v1h-1zM623 412h1v1h-1zM624 413h1v1h-1zM625 413h1v1h-1zM626 413h1v1h-1zM627 413h1v1h-1zM628 414h1v1h-1zM629 414h1v1h-1zM630 414h1v1h-1zM631 414h1v1h-1zM632 415h1v1h-1zM633 415h1v1h-1zM634 415h1v1h-1zM635 416h1v1h-1zM636 416h1v1h-1zM637 416h1v1h-1zM638 416h1v1h-1zM639 417h1v1h-1zM640 417h1v1h-1zM641 417h1v1h-1zM642 417h1v1h-1zM643 418h1v1h-1zM644 418h1v1h-1zM645 418h1v1h-1zM646 418h1v1h-1zM647 419h1v1h-1zM648 419h1v1h-1zM649 419h1v1h-1zM650 419h1v1h-1zM651 419h1v1h-1zM652 419h1v1h-1zM653 420h1v1h-1zM654 420h1v1h-1zM655 420h1v1h-1zM656 420h1v1h-1zM657 420h1v1h-1zM658 420h1v1h-1zM659 421h1v1h-1zM660 421h1v1h-1zM661 421h1v1h-1zM662 421h1v1h-1zM663 421h1v1h-1zM664 422h1v1h-1zM665 422h1v1h-1zM666 422h1v1h-1zM667 422h1v1h-1zM668 423h1v1h-1zM669 423h1v1h-1zM670 423h1v1h-1zM671 423h1v1h-1zM672 424h1v1h-1zM673 424h1v1h-1zM674 424h1v1h-1zM675 424h1v1h-1zM676 425h1v1h-1zM677 425h1v1h-1zM678 425h1v1h-1zM679 425h1v1h-1zM680 425h1v1h-1zM681 426h1v1h-1zM682 426h1v1h-1zM683 426h1v1h-1zM684 426h1v1h-1zM685 427h1v1h-1zM686 427h1v1h-1zM687 427h1v1h-1zM688 427h1v1h-1zM689 428h1v1h-1zM690 428h1v1h-1zM691 428h1v1h-1zM692 428h1v1h-1zM693 429h1v1h-1zM694 429h1v1h-1zM695 429h1v1h-1zM696 429h1v1h-1zM697 430h1v1h-1zM698 430h1v1h-1zM699 430h1v1h-1zM700 430h1v1h-1zM701 431h1v1h-1zM702 431h1v1h-1zM703 431h1v1h-1zM704 431h1v1h-1zM705 432h1v1h-1zM706 432h1v1h-1zM707 432h1v1h-1zM708 432h1v1h-1zM709 433h1v1h-1zM710 433h1v1h-1zM711 433h1v1h-1z" fill="#ff00ff" shape-rendering="crispEdges"/>
<path d="M93 434h1v1h-1zM94 434h1v1h-1zM95 434h1v1h-1zM96 433h1v1h-1zM97 433h1v1h-1zM98 433h1v1h-1zM99 433h1v1h-1zM100 433h1v1h-1zM101 432h1v1h-1zM102 432h1v1h-1zM103 431h1v1h-1zM104 431h1v1h-1zM105 430h1v1h-1zM106 430h1v1h-1zM107 429h1v1h-1zM108 429h1v1h-1zM109 428h1v1h-1zM110 428h1v1h-1zM111 427h1v1h-1zM112 427h1v1h-1zM113 426h1v1h-1zM114 425h1v1h-1zM115 424h1v1h-1zM116 423h1v1h-1zM117 422h1v1h-1zM118 421h1v1h-1zM119 421h1v1h-1zM120 420h1v1h-1zM121 420h1v1h-1zM122 419h1v1h-1zM123 419h1v1h-1zM124 418h1v1h-1zM125 418h1v1h-1zM126 417h1v1h-1zM127 417h1v1h-1zM128 416h1v1h-1zM129 415h1v1h-1zM130 415h1v1h-1zM131 414h1v1h-1zM132 413h1v1h-1zM133 413h1v1h-1zM134 412h1v1h-1zM135 411h1v1h-1zM136 411h1v1h-1zM137 410h1v1h-1zM138 409h1v1h-1zM139 409h1v1h-1zM140 408h1v1h-1zM141 407h1v1h-1zM142 407h1v1h-1zM143 406h1v1h-1zM144 405h1v1h-1zM145 404h1v1h-1zM146 404h1v1h-1zM147 403h1v1h-1zM148 403h1v1h-1zM149 402h1v1h-1zM150 402h1v1h-1zM151 402h1v1h-1zM152 401h1v1h-1zM153 401h1v1h-1zM154 401h1v1h-1zM155 400h1v1h-1zM156 400h1v1h-1zM157 400h1v1h-1zM158 399h1v1h-1zM159 399h1v1h-1zM160 399h1v1h-1zM161 398h1v1h-1zM162 398h1v1h-1zM163 398h1v1h-1zM164 397h1v1h-1zM165 397h1v1h-1zM166 397h1v1h-1zM167 396h1v1h-1zM168 396h1v1h-1zM169 396h1v1h-1zM170 396h1v1h-1zM171 395h1v1h-1zM172 395h1v1h-1zM173 395h1v1h-1zM174 395h1v1h-1zM175 395h1v1h-1zM176 395h1v1h-1zM177 394h1v1h-1zM178 394h1v1h-1zM179 394h1v1h-1zM180 394h1v1h-1zM181 393h1v1h-1zM182 393h1v1h-1zM183 393h1v1h-1zM184 393h1v1h-1zM185 393h1v1h-1zM186 392h1v1h-1zM187 392h1v1h-1zM188 392h1v1h-1zM189 392h1v1h-1zM190 392h1v1h-1zM191 391h1v1h-1zM192 391h1v1h-1zM193 391h1v1h-1zM194 390h1v1h-1zM195 390h1v1h-1zM196 389h1v1h-1zM197 389h1v1h-1zM198 388h1v1h-1zM199 388h1v1h-1zM200 387h1v1h-1zM201 387h1v1h-1zM202 386h1v1h-1zM203 386h1v1h-1zM204 385h1v1h-1zM205 384h1v1h-1zM206 383h1v1h-1zM207 383h1v1h-1zM208 382h1v1h-1zM209 381h1v1h-1zM210 381h1v1h-1zM211 380h1v1h-1zM212 380h1v1h-1zM213 379h1v1h-1zM214 379h1v1h-1zM215 378h1v1h-1zM216 378h1v1h-1zM217 377h1v1h-1zM218 377h1v1h-1zM219 376h1v1h-1zM220 376h1v1h-1zM221 376h1v1h-1zM222 375h1v1h-1zM223 375h1v1h-1zM224 375h1v1h-1zM225 374h1v1h-1zM226 374h1v1h-1zM227 374h1v1h-1zM228 374h1v1h-1zM229 373h1v1h-1zM230 373h1v1h-1zM231 373h1v1h-1zM232 373h1v1h-1zM233 373h1v1h-1zM234 372h1v1h-1zM235 372h1v1h-1zM236 372h1v1h-1zM237 371h1v1h-1zM238 371h1v1h-1zM239 371h1v1h-1zM240 371h1v1h-1zM241 371h1v1h-1zM242 370h1v1h-1zM243 370h1v1h-1zM244 370h1v1h-1zM245 370h1v1h-1zM246 370h1v1h-1zM247 370h1v1h-1zM248 370h1v1h-1zM249 370h1v1h-1zM250 370h1v1h-1zM251 370h1v1h-1zM252 370h1v1h-1zM253 370h1v1h-1zM254 370h1v1h-1zM255 370h1v1h-1zM256 370h1v1h-1zM257 370h1v1h-1zM258 370h1v1h-1zM259 370h1v1h-1zM260 370h1v1h-1zM261 370h1v1h-1zM262 370h1v1h-1zM263 370h1v1h-1zM264 370h1v1h-1zM265 370h1v1h-1zM266 370h1v1h-1zM267 370h1v1h-1zM268 370h1v1h-1zM269 370h1v1h-1zM270 370h1v1h-1zM271 370h1v1h-1zM272 369h1v1h-1zM273 369h1v1h-1zM274 369h1v1h-1zM275 369h1v1h-1zM276 369h1v1h-1zM277 369h1v1h-1zM278 369h1v1h-1zM279 370h1v1h-1zM280 370h1v1h-1zM281 370h1v1h-1zM282 370h1v1h-1zM283 370h1v1h-1zM284 371h1v1h-1zM285 371h1v1h-1zM286 372h1v1h-1zM287 372h1v1h-1zM288 372h1v1h-1zM289 373h1v1h-1zM290 373h1v1h-1zM291 373h1v1h-1zM292 374h1v1h-1zM293 374h1v1h-1zM294 374h1v1h-1zM295 375h1v1h-1zM296 375h1v1h-1zM297 375h1v1h-1zM298 376h1v1h-1zM299 376h1v1h-1zM300 376h1v1h-1zM301 377h1v1h-1zM302 377h1v1h-1zM303 378h1v1h-1zM304 378h1v1h-1zM305 379h1v1h-1zM306 379h1v1h-1zM307 380h1v1h-1zM308 380h1v1h-1zM309 381h1v1h-1zM310 381h1v1h-1zM311 382h1v1h-1zM312 382h1v1h-1zM313 383h1v1h-1zM314 383h1v1h-1zM315 384h1v1h-1zM316 385h1v1h-1zM317 385h1v1h-1zM318 386h1v1h-1zM319 387h1v1h-1zM320 388h1v1h-1zM321 388h1v1h-1zM322 389h1v1h-1zM323 390h1v1h-1zM324 391h1v1h-1zM325 391h1v1h-1zM326 392h1v1h-1zM327 393h1v1h-1zM328 394h1v1h-1zM329 394h1v1h-1zM330 395h1v1h-1zM331 396h1v1h-1zM332 396h1v1h-1zM333 397h1v1h-1zM334 398h1v1h-1zM335 398h1v1h-1zM336 399h1v1h-1zM337 400h1v1h-1zM338 400h1v1h-1zM339 401h1v1h-1zM340 401h1v1h-1zM341 401h1v1h-1zM342 402h1v1h-1zM343 402h1v1h-1zM344 402h1v1h-1zM345 402h1v1h-1zM346 402h1v1h-1zM347 402h1v1h-1zM348 402h1v1h-1zM349 402h1v1h-1zM350 402h1v1h-1zM351 402h1v1h-1zM352 402h1v1h-1zM353 402h1v1h-1zM354 402h1v1h-1zM355 402h1v1h-1zM356 402h1v1h-1zM357 402h1v1h-1zM358 402h1v1h-1zM359 402h1v1h-1zM360 402h1v1h-1zM361 402h1v1h-1zM362 402h1v1h-1zM363 403h1v1h-1zM364 403h1v1h-1zM365 403h1v1h-1zM366 403h1v1h-1zM367 403h1v1h-1zM368 404h1v1h-1zM369 404h1v1h-1zM370 404h1v1h-1zM371 405h1v1h-1zM372 405h1v1h-1zM373 405h1v1h-1zM374 405h1v1h-1zM375 406h1v1h-1zM376 406h1v1h-1zM377 406h1v1h-1zM378 406h1v1h-1zM379 406h1v1h-1zM380 406h1v1h-1zM381 407h1v1h-1zM382 407h1v1h-1zM383 407h1v1h-1zM384 407h1v1h-1zM385 407h1v1h-1zM386 408h1v1h-1zM387 408h1v1h-1zM388 408h1v1h-1zM389 409h1v1h-1zM390 409h1v1h-1zM391 409h1v1h-1zM392 410h1v1h-1zM393 410h1v1h-1zM394 410h1v1h-1zM395 411h1v1h-1zM396 411h1v1h-1zM397 411h1v1h-1zM398 412h1v1h-1zM399 412h1v1h-1zM400 412h1v1h-1zM401 413h1v1h-1zM402 413h1v1h-1zM403 413h1v1h-1zM404 413h1v1h-1zM405 414h1v1h-1zM406 414h1v1h-1zM407 414h1v1h-1zM408 414h1v1h-1zM409 414h1v1h-1zM410 415h1v1h-1zM411 415h1v1h-1zM412 415h1v1h-1zM413 416h1v1h-1zM414 416h1v1h-1zM415 416h1v1h-1zM416 417h1v1h-1zM417 417h1v1h-1zM418 417h1v1h-1zM419 418h1v1h-1zM420 418h1v1h-1zM421 418h1v1h-1zM422 419h1v1h-1zM423 419h1v1h-1zM424 419h1v1h-1zM425 420h1v1h-1zM426 420h1v1h-1zM427 421h1v1h-1zM428 421h1v1h-1zM429 422h1v1h-1zM430 422h1v1h-1zM431 423h1v1h-1zM432 423h1v1h-1zM433 423h1v1h-1zM434 423h1v1h-1zM435 424h1v1h-1zM436 424h1v1h-1zM437 424h1v1h-1zM438 424h1v1h-1zM439 425h1v1h-1zM440 425h1v1h-1zM441 425h1v1h-1zM442 425h1v1h-1zM443 426h1v1h-1zM444 426h1v1h-1zM445 426h1v1h-1zM446 426h1v1h-1zM447 426h1v1h-1zM448 426h1v1h-1zM449 426h1v1h-1zM450 426h1v1h-1zM451 426h1v1h-1zM452 426h1v1h-1zM453 426h1v1h-1zM454 426h1v1h-1zM455 426h1v1h-1zM456 426h1v1h-1zM457 426h1v1h-1zM458 426h1v1h-1zM459 426h1v1h-1zM460 426h1v1h-1zM461 426h1v1h-1zM462 427h1v1h-1zM463 427h1v1h-1zM464 427h1v1h-1zM465 427h1v1h-1zM466 428h1v1h-1zM467 428h1v1h-1zM468 428h1v1h-1zM469 428h1v1h-1zM470 428h1v1h-1zM471 429h1v1h-1zM472 429h1v1h-1zM473 429h1v1h-1zM474 429h1v1h-1zM475 429h1v1h-1zM476 430h1v1h-1zM477 430h1v1h-1zM478 430h1v1h-1zM479 431h1v1h-1zM480 431h1v1h-1zM481 432h1v1h-1zM482 432h1v1h-1zM483 433h1v1h-1zM484 433h1v1h-1zM485 433h1v1h-1zM486 434h1v1h-1zM487 434h1v1h-1zM488 434h1v1h-1zM489 435h1v1h-1zM490 435h1v1h-1zM491 435h1v1h-1zM492 436h1v1h-1zM493 436h1v1h-1zM494 436h1v1h-1zM495 437h1v1h-1zM496 437h1v1h-1zM497 438h1v1h-1zM498 438h1v1h-1zM499 439h1v1h-1zM500 439h1v1h-1zM501 440h1v1h-1zM502 440h1v1h-1zM503 441h1v1h-1zM504 441h1v1h-1zM505 442h1v1h-1zM506 442h1v1h-1zM507 443h1v1h-1zM508 443h1v1h-1zM509 444h1v1h-1zM510 444h1v1h-1zM511 445h1v1h-1zM512 446h1v1h-1zM513 446h1v1h-1zM514 447h1v1h-1zM515 448h1v1h-1zM516 448h1v1h-1zM517 449h1v1h-1zM518 450h1v1h-1zM519 450h1v1h-1zM520 451h1v1h-1zM521 452h1v1h-1zM522 452h1v1h-1zM523 453h1v1h-1zM524 453h1v1h-1zM525 454h1v1h-1zM526 454h1v1h-1zM527 455h1v1h-1zM528 455h1v1h-1zM529 456h1v1h-1zM530 456h1v1h-1zM531 457h1v1h-1zM532 457h1v1h-1zM533 458h1v1h-1zM534 458h1v1h-1zM535 458h1v1h-1zM536 459h1v1h-1zM537 459h1v1h-1zM538 459h1v1h-1zM539 460h1v1h-1zM540 460h1v1h-1zM541 460h1v1h-1zM542 461h1v1h-1zM543 461h1v1h-1zM544 461h1v1h-1zM545 462h1v1h-1zM546 462h1v1h-1zM547 463h1v1h-1zM548 463h1v1h-1zM549 464h1v1h-1zM550 464h1v1h-1zM551 465h1v1h-1zM552 465h1v1h-1zM553 466h1v1h-1zM554 466h1v1h-1zM555 467h1v1h-1zM556 467h1v1h-1zM557 468h1v1h-1zM558 468h1v1h-1zM559 469h1v1h-1zM560 469h1v1h-1zM561 470h1v1h-1zM562 470h1v1h-1zM563 470h1v1h-1zM564 471h1v1h-1zM565 471h1v1h-1zM566 471h1v1h-1zM567 471h1v1h-1zM568 471h1v1h-1zM569 472h1v1h-1zM570 472h1v1h-1zM571 472h1v1h-1zM572 472h1v1h-1zM573 472h1v1h-1zM574 472h1v1h-1zM575 473h1v1h-1zM576 473h1v1h-1zM577 473h1v1h-1zM578 473h1v1h-1zM579 473h1v1h-1zM580 473h1v1h-1zM581 473h1v1h-1zM582 473h1v1h-1zM583 473h1v1h-1zM584 473h1v1h-1zM585 473h1v1h-1zM586 473h1v1h-1zM587 473h1v1h-1zM588 473h1v1h-1zM589 473h1v1h-1zM590 473h1v1h-1zM591 474h1v1h-1zM592 474h1v1h-1zM593 474h1v1h-1zM594 475h1v1h-1zM595 475h1v1h-1zM596 475h1v1h-1zM597 475h1v1h-1zM598 476h1v1h-1zM599 476h1v1h-1zM600 476h1v1h-1zM601 476h1v1h-1zM602 476h1v1h-1zM603 476h1v1h-1zM604 476h1v1h-1zM605 476h1v1h-1zM606 477h1v1h-1zM607 477h1v1h-1zM608 477h1v1h-1zM609 478h1v1h-1zM610 478h1v1h-1zM611 478h1v1h-1zM612 479h1v1h-1zM613 479h1v1h-1zM614 479h1v1h-1zM615 480h1v1h-1zM616 480h1v1h-1zM617 480h1v1h-1zM618 481h1v1h-1zM619 481h1v1h-1zM620 481h1v1h-1zM621 482h1v1h-1zM622 482h1v1h-1zM623 482h1v1h-1zM624 482h1v1h-1zM625 483h1v1h-1zM626 483h1v1h-1zM627 483h1v1h-1zM628 483h1v1h-1zM629 483h1v1h-1zM630 484h1v1h-1zM631 484h1v1h-1zM632 484h1v1h-1zM633 485h1v1h-1zM634 485h1v1h-1zM635 485h1v1h-1zM636 486h1v1h-1zM637 486h1v1h-1zM638 486h1v1h-1zM639 487h1v1h-1zM640 487h1v1h-1zM641 487h1v1h-1zM642 488h1v1h-1zM643 488h1v1h-1zM644 488h1v1h-1zM645 489h1v1h-1zM646 489h1v1h-1zM647 489h1v1h-1zM648 490h1v1h-1zM649 490h1v1h-1zM650 490h1v1h-1zM651 491h1v1h-1zM652 491h1v1h-1zM653 491h1v1h-1zM654 492h1v1h-1zM655 492h1v1h-1zM656 492h1v1h-1zM657 493h1v1h-1zM658 493h1v1h-1zM659 493h1v1h-1zM660 493h1v1h-1zM661 494h1v1h-1zM662 494h1v1h-1zM663 494h1v1h-1zM664 494h1v1h-1zM665 494h1v1h-1zM666 494h1v1h-1zM667 495h1v1h-1zM668 495h1v1h-1zM669 495h1v1h-1zM670 495h1v1h-1zM671 495h1v1h-1zM672 495h1v1h-1zM673 496h1v1h-1zM674 496h1v1h-1zM675 496h1v1h-1zM676 496h1v1h-1zM677 496h1v1h-1zM678 497h1v1h-1zM679 497h1v1h-1zM680 497h1v1h-1zM681 498h1v1h-1zM682 498h1v1h-1zM683 498h1v1h-1zM684 499h1v1h-1zM685 499h1v1h-1zM686 499h1v1h-1zM687 500h1v1h-1zM688 500h1v1h-1zM689 500h1v1h-1zM690 500h1v1h-1zM691 500h1v1h-1zM692 500h1v1h-1zM693 500h1v1h-1zM694 501h1v1h-1zM695 501h1v1h-1zM696 501h1v1h-1zM697 502h1v1h-1zM698 502h1v1h-1zM699 503h1v1h-1zM700 503h1v1h-1zM701 503h1v1h-1zM702 504h1v1h-1zM703 504h1v1h-1zM704 504h1v1h-1zM705 505h1v1h-1zM706 505h1v1h-1zM707 506h1v1h-1zM708 506h1v1h-1zM709 506h1v1h-1zM710 507h1v1h-1zM711 507h1v1h-1z" fill="#000" shape-rendering="crispEdges"/>
<path d="M89 256h2v2h-2zM91 256h1v3h-1zM92 257h2v2h-2zM94 257h1v3h-1zM95 258h2v2h-2zM97 258h1v3h-1zM98 259h2v2h-2zM100 259h1v3h-1zM101 260h2v2h-2zM103 260h1v3h-1zM104 261h2v2h-2zM106 261h1v3h-1zM107 262h2v2h-2zM109 262h1v3h-1zM110 263h2v2h-2zM112 263h1v3h-1zM113 264h2v2h-2zM115 264h1v3h-1zM116 265h2v2h-2zM118 265h1v3h-1zM119 266h1v2h-1zM120 266h1v3h-1zM121 267h2v2h-2zM123 267h1v3h-1zM124 268h2v2h-2zM126 268h1v3h-1zM127 269h2v2h-2zM129 269h1v3h-1zM130 270h2v2h-2zM132 270h1v3h-1zM133 271h2v2h-2zM135 271h1v3h-1zM136 272h2v2h-2zM138 272h1v3h-1zM139 273h2v2h-2zM141 273h1v3h-1zM142 274h2v2h-2zM144 274h1v3h-1zM145 275h2v2h-2zM147 275h1v3h-1zM148 276h2v2h-2zM150 276h1v3h-1zM151 277h2v2h-2zM153 277h1v3h-1zM154 278h2v2h-2zM156 278h1v3h-1zM157 279h2v2h-2zM159 279h1v3h-1zM160 280h2v2h-2zM162 280h1v3h-1zM163 281h2v2h-2zM165 281h1v3h-1zM166 282h2v2h-2zM168 282h1v3h-1zM169 283h2v2h-2zM171 283h1v3h-1zM172 284h2v2h-2zM174 284h1v3h-1zM175 285h2v2h-2zM177 285h1v3h-1zM178 286h2v2h-2zM180 286h1v3h-1zM181 287h1v2h-1zM182 287h1v3h-1zM183 288h2v2h-2zM185 288h1v3h-1zM186 289h2v2h-2zM188 289h1v3h-1zM189 290h2v2h-2zM191 290h1v3h-1zM192 291h2v2h-2zM194 291h1v3h-1zM195 292h2v2h-2zM197 292h1v3h-1zM198 293h2v2h-2zM200 293h1v3h-1zM201 294h2v2h-2zM203 294h1v3h-1zM204 295h2v2h-2zM206 295h1v3h-1zM207 296h2v2h-2zM209 296h1v3h-1zM210 297h2v2h-2zM212 297h1v3h-1zM213 298h2v2h-2zM215 298h1v3h-1zM216 299h2v2h-2zM218 299h1v3h-1zM219 300h2v2h-2zM221 300h1v3h-1zM222 301h2v2h-2zM224 301h1v3h-1zM225 302h2v2h-2zM227 302h1v3h-1zM228 303h2v2h-2zM230 303h1v3h-1zM231 304h2v2h-2zM233 304h1v3h-1zM234 305h2v2h-2zM236 305h1v3h-1zM237 306h2v2h-2zM239 306h1v3h-1zM240 307h1v2h-1zM241 307h1v3h-1zM242 308h2v2h-2zM244 308h1v3h-1zM245 309h2v2h-2zM247 309h1v3h-1zM248 310h2v2h-2zM250 310h1v3h-1zM251 311h2v2h-2zM253 311h1v3h-1zM254 312h2v2h-2zM256 312h1v3h-1zM257 313h2v2h-2zM259 313h1v3h-1zM260 314h2v2h-2zM262 314h1v3h-1zM263 315h2v2h-2zM265 315h1v3h-1zM266 316h2v2h-2zM268 316h1v3h-1zM269 317h2v2h-2zM271 317h1v3h-1zM272 318h2v2h-2zM274 318h1v3h-1zM275 319h2v2h-2zM277 319h1v3h-1zM278 320h2v2h-2zM280 320h1v3h-1zM281 321h2v2h-2zM283 321h1v3h-1zM284 322h2v2h-2zM286 322h1v3h-1zM287 323h2v2h-2zM289 323h1v3h-1zM290 324h2v2h-2zM292 324h1v3h-1zM293 325h2v2h-2zM295 325h1v3h-1zM296 326h2v2h-2zM298 326h1v3h-1zM299 327h2v2h-2zM301 327h1v3h-1zM302 328h1v2h-1zM303 328h1v3h-1zM304 329h2v2h-2zM306 329h1v3h-1zM307 330h2v2h-2zM309 330h1v3h-1zM310 331h2v2h-2zM312 331h1v3h-1zM313 332h2v2h-2zM315 332h1v3h-1zM316 333h2v2h-2zM318 333h1v3h-1zM319 334h2v2h-2zM321 334h1v3h-1zM322 335h2v2h-2zM324 335h1v3h-1zM325 336h2v2h-2zM327 336h1v3h-1zM328 337h2v2h-2zM330 337h1v3h-1zM331 338h2v2h-2zM333 338h1v3h-1zM334 339h2v2h-2zM336 339h1v3h-1zM337 340h2v2h-2zM339 340h1v3h-1zM340 341h2v2h-2zM342 341h1v3h-1zM343 342h2v2h-2zM345 342h1v3h-1zM346 343h2v2h-2zM348 343h1v3h-1zM349 344h2v2h-2zM351 344h1v3h-1zM352 345h2v2h-2zM354 345h1v3h-1zM355 346h2v2h-2zM357 346h1v3h-1zM358 347h2v2h-2zM360 347h1v3h-1zM361 348h2v2h-2zM363 348h1v3h-1zM364 349h1v2h-1zM365 349h1v3h-1zM366 350h2v2h-2zM368 350h1v3h-1zM369 351h2v2h-2zM371 351h1v3h-1zM372 352h2v2h-2zM374 352h1v3h-1zM375 353h2v2h-2zM377 353h1v3h-1zM378 354h2v2h-2zM380 354h1v3h-1zM381 355h2v2h-2zM383 355h1v3h-1zM384 356h2v2h-2zM386 356h1v3h-1zM387 357h2v2h-2zM389 357h1v3h-1zM390 358h2v2h-2zM392 358h1v3h-1zM393 359h2v2h-2zM395 359h1v3h-1zM396 360h2v2h-2zM398 360h1v3h-1zM399 361h2v2h-2zM401 361h1v3h-1zM402 362h2v2h-2zM404 362h1v3h-1zM405 363h2v2h-2zM407 363h1v3h-1zM408 364h2v2h-2zM410 364h1v3h-1zM411 365h2v2h-2zM413 365h1v3h-1zM414 366h2v2h-2zM416 366h1v3h-1zM417 367h2v2h-2zM419 367h1v3h-1zM420 368h2v2h-2zM422 368h1v3h-1zM423 369h1v2h-1zM424 369h1v3h-1zM425 370h2v2h-2zM427 370h1v3h-1zM428 371h2v2h-2zM430 371h1v3h-1zM431 372h2v2h-2zM433 372h1v3h-1zM434 373h2v2h-2zM436 373h1v3h-1zM437 374h2v2h-2zM439 374h1v3h-1zM440 375h2v2h-2zM442 375h1v3h-1zM443 376h2v2h-2zM445 376h1v3h-1zM446 377h2v2h-2zM448 377h1v3h-1zM449 378h2v2h-2zM451 378h1v3h-1zM452 379h2v2h-2zM454 379h1v3h-1zM455 380h2v2h-2zM457 380h1v3h-1zM458 381h2v2h-2zM460 381h1v3h-1zM461 382h2v2h-2zM463 382h1v3h-1zM464 383h2v2h-2zM466 383h1v3h-1zM467 384h2v2h-2zM469 384h1v3h-1zM470 385h2v2h-2zM472 385h1v3h-1zM473 386h2v2h-2zM475 386h1v3h-1zM476 387h2v2h-2zM478 387h1v3h-1zM479 388h2v2h-2zM481 388h1v3h-1zM482 389h2v2h-2zM484 389h1v3h-1zM485 390h1v2h-1zM486 390h1v3h-1zM487 391h2v2h-2zM489 391h1v3h-1zM490 392h2v2h-2zM492 392h1v3h-1zM493 393h2v2h-2zM495 393h1v3h-1zM496 394h2v2h-2zM498 394h1v3h-1zM499 395h2v2h-2zM501 395h1v3h-1zM502 396h2v2h-2zM504 396h1v3h-1zM505 397h2v2h-2zM507 397h1v3h-1zM508 398h2v2h-2zM510 398h1v3h-1zM511 399h2v2h-2zM513 399h1v3h-1zM514 400h2v2h-2zM516 400h1v3h-1zM517 401h2v2h-2zM519 401h1v3h-1zM520 402h2v2h-2zM522 402h1v3h-1zM523 403h2v2h-2zM525 403h1v3h-1zM526 404h2v2h-2zM528 404h1v3h-1zM529 405h2v2h-2zM531 405h1v3h-1zM532 406h2v2h-2zM534 406h1v3h-1zM535 407h2v2h-2zM537 407h1v3h-1zM538 408h2v2h-2zM540 408h1v3h-1zM541 409h2v2h-2zM543 409h1v3h-1zM544 410h1v2h-1zM545 410h1v3h-1zM546 411h2v2h-2zM548 411h1v3h-1zM549 412h2v2h-2zM551 412h1v3h-1zM552 413h2v2h-2zM554 413h1v3h-1zM555 414h2v2h-2zM557 414h1v3h-1zM558 415h2v2h-2zM560 415h1v3h-1zM561 416h2v2h-2zM563 416h1v3h-1zM564 417h2v2h-2zM566 417h1v3h-1zM567 418h2v2h-2zM569 418h1v3h-1zM570 419h2v2h-2zM572 419h1v3h-1zM573 420h2v2h-2zM575 420h1v3h-1zM576 421h2v2h-2zM578 421h1v3h-1zM579 422h2v2h-2zM581 422h1v3h-1zM582 423h2v2h-2zM584 423h1v3h-1zM585 424h2v2h-2zM587 424h1v3h-1zM588 425h2v2h-2zM590 425h1v3h-1zM591 426h2v2h-2zM593 426h1v3h-1zM594 427h2v2h-2zM596 427h1v3h-1zM597 428h2v2h-2zM599 428h1v3h-1zM600 429h2v2h-2zM602 429h1v3h-1zM603 430h2v2h-2zM605 430h1v3h-1zM606 431h1v2h-1zM607 431h1v3h-1zM608 432h2v2h-2zM610 432h1v3h-1zM611 433h2v2h-2zM613 433h1v3h-1zM614 434h2v2h-2zM616 434h1v3h-1zM617 435h2v2h-2zM619 435h1v3h-1zM620 436h2v2h-2zM622 436h1v3h-1zM623 437h2v2h-2zM625 437h1v3h-1zM626 438h2v2h-2zM628 438h1v3h-1zM629 439h2v2h-2zM631 439h1v3h-1zM632 440h2v2h-2zM634 440h1v3h-1zM635 441h2v2h-2zM637 441h1v3h-1zM638 442h2v2h-2zM640 442h1v3h-1zM641 443h2v2h-2zM643 443h1v3h-1zM644 444h2v2h-2zM646 444h1v3h-1zM647 445h2v2h-2zM649 445h1v3h-1zM650 446h2v2h-2zM652 446h1v3h-1zM653 447h2v2h-2zM655 447h1v3h-1zM656 448h2v2h-2zM658 448h1v3h-1zM659 449h2v2h-2zM661 449h1v3h-1zM662 450h2v2h-2zM664 450h1v3h-1zM665 451h1v2h-1zM666 451h1v3h-1zM667 452h2v2h-2zM669 452h1v3h-1zM670 453h2v2h-2zM672 453h1v3h-1zM673 454h2v2h-2zM675 454h1v3h-1zM676 455h2v2h-2zM678 455h1v3h-1zM679 456h2v2h-2zM681 456h1v3h-1zM682 457h2v2h-2zM684 457h1v3h-1zM685 458h2v2h-2zM687 458h1v3h-1zM688 459h2v2h-2zM690 459h1v3h-1zM691 460h2v2h-2zM693 460h1v3h-1zM694 461h2v2h-2zM696 461h1v3h-1zM697 462h2v2h-2zM699 462h1v3h-1zM700 463h2v2h-2zM702 463h1v3h-1zM703 464h2v2h-2zM705 464h1v3h-1zM706 465h2v2h-2zM708 465h1v3h-1zM709 466h2v2h-2zM711 466h1v3h-1zM712 467h2v2h-2zM714 467h1v3h-1zM715 468h2v2h-2zM717 468h1v3h-1zM718 469h2v2h-2zM720 469h1v3h-1zM721 470h2v2h-2zM723 470h1v3h-1zM724 471h2v2h-2zM726 471h1v3h-1zM727 472h1v2h-1zM728 472h1v3h-1zM729 473h2v2h-2zM731 473h1v3h-1zM732 474h2v2h-2zM734 474h1v3h-1zM735 475h2v2h-2zM737 475h1v3h-1zM738 476h2v2h-2zM740 476h1v3h-1zM741 477h2v2h-2zM743 477h1v3h-1zM744 478h2v2h-2zM746 478h1v3h-1zM747 479h2v2h-2zM749 479h1v3h-1zM750 480h2v2h-2zM752 480h1v3h-1zM753 481h2v2h-2zM755 481h1v3h-1zM756 482h2v2h-2zM758 482h1v3h-1zM759 483h2v2h-2zM761 483h1v3h-1zM762 484h2v2h-2zM764 484h1v3h-1zM765 485h2v2h-2zM767 485h1v3h-1zM768 486h2v2h-2zM770 486h1v3h-1zM771 487h2v2h-2zM773 487h1v3h-1zM774 488h2v2h-2zM776 488h1v3h-1zM777 489h2v2h-2zM779 489h1v3h-1zM780 490h2v2h-2zM782 490h1v3h-1zM783 491h2v2h-2zM785 491h1v3h-1zM786 492h2v2h-2zM788 492h1v3h-1zM789 493h1v2h-1zM790 493h1v3h-1zM791 494h2v2h-2zM793 494h1v3h-1zM794 495h2v2h-2zM796 495h1v3h-1zM797 496h2v2h-2zM799 496h1v3h-1zM800 497h2v2h-2zM802 497h1v3h-1zM803 498h2v2h-2zM805 498h1v3h-1zM806 499h2v2h-2zM808 499h1v3h-1zM809 500h2v2h-2zM811 500h1v3h-1zM812 501h2v2h-2zM814 501h1v3h-1zM815 502h2v2h-2zM817 502h1v3h-1zM818 503h2v2h-2zM820 503h1v3h-1zM821 504h2v2h-2zM823 504h1v3h-1zM824 505h2v2h-2zM826 505h1v3h-1zM827 506h2v2h-2zM829 506h1v3h-1zM830 507h2v2h-2zM832 507h1v3h-1zM833 508h2v2h-2zM835 508h1v3h-1zM836 509h2v2h-2zM838 509h1v3h-1zM839 510h2v2h-2zM841 510h1v3h-1zM842 511h2v2h-2zM844 511h1v3h-1zM845 512h2v2h-2zM847 512h1v3h-1zM848 513h1v2h-1zM849 513h1v3h-1zM850 514h2v2h-2zM852 514h1v3h-1zM853 515h2v2h-2zM855 515h1v3h-1zM856 516h2v2h-2zM858 516h1v3h-1zM859 517h2v2h-2zM861 517h1v3h-1zM862 518h2v2h-2zM864 518h1v3h-1zM865 519h2v2h-2zM867 519h1v3h-1zM868 520h2v2h-2zM870 520h1v3h-1zM871 521h2v2h-2zM873 521h1v3h-1zM874 522h2v2h-2zM876 522h1v3h-1zM877 523h2v2h-2zM879 523h1v3h-1zM880 524h2v2h-2zM882 524h1v3h-1zM883 525h2v2h-2zM885 525h1v3h-1zM886 526h2v2h-2zM888 526h1v3h-1zM889 527h2v2h-2zM891 527h1v3h-1zM892 528h2v2h-2zM894 528h1v3h-1zM895 529h2v2h-2zM897 529h1v3h-1zM898 530h2v2h-2zM900 530h1v3h-1zM901 531h2v2h-2zM903 531h1v3h-1zM904 532h2v2h-2zM906 532h1v3h-1zM907 533h2v2h-2zM909 533h1v3h-1zM910 534h1v2h-1zM911 534h1v3h-1zM912 535h2v2h-2zM914 535h1v3h-1zM915 536h2v2h-2zM917 536h1v3h-1zM918 537h2v2h-2zM920 537h1v3h-1zM921 538h2v2h-2zM923 538h1v3h-1zM924 539h2v2h-2zM926 539h1v3h-1zM927 540h2v2h-2zM929 540h1v3h-1zM930 541h2v2h-2zM932 541h1v3h-1zM933 542h2v2h-2zM935 542h1v3h-1zM936 543h2v2h-2zM938 543h1v3h-1z" fill="#ff0000" shape-rendering="crispEdges"/>
<path d="M89 423h2v2h-2zM91 423h1v3h-1zM92 424h2v2h-2zM94 424h1v3h-1zM95 425h2v2h-2zM97 425h1v3h-1zM98 426h2v2h-2zM100 426h1v3h-1zM101 427h2v2h-2zM103 427h1v3h-1zM104 428h2v2h-2zM106 428h1v3h-1zM107 429h2v2h-2zM109 429h1v3h-1zM110 430h2v2h-2zM112 430h1v3h-1zM113 431h2v2h-2zM115 431h1v3h-1zM116 432h2v2h-2zM118 432h1v3h-1zM119 433h1v2h-1zM120 433h1v3h-1zM121 434h2v2h-2zM123 434h1v3h-1zM124 435h2v2h-2zM126 435h1v3h-1zM127 436h2v2h-2zM129 436h1v3h-1zM130 437h2v2h-2zM132 437h1v3h-1zM133 438h2v2h-2zM135 438h1v3h-1zM136 439h2v2h-2zM138 439h1v3h-1zM139 440h2v2h-2zM141 440h1v3h-1zM142 441h2v2h-2zM144 441h1v3h-1zM145 442h2v2h-2zM147 442h1v3h-1zM148 443h2v2h-2zM150 443h1v3h-1zM151 444h2v2h-2zM153 444h1v3h-1zM154 445h2v2h-2zM156 445h1v3h-1zM157 446h2v2h-2zM159 446h1v3h-1zM160 447h2v2h-2zM162 447h1v3h-1zM163 448h2v2h-2zM165 448h1v3h-1zM166 449h2v2h-2zM168 449h1v3h-1zM169 450h2v2h-2zM171 450h1v3h-1zM172 451h2v2h-2zM174 451h1v3h-1zM175 452h2v2h-2zM177 452h1v3h-1zM178 453h2v2h-2zM180 453h1v3h-1zM181 454h1v2h-1zM182 454h1v3h-1zM183 455h2v2h-2zM185 455h1v3h-1zM186 456h2v2h-2zM188 456h1v3h-1zM189 457h2v2h-2zM191 457h1v3h-1zM192 458h2v2h-2zM194 458h1v3h-1zM195 459h2v2h-2zM197 459h1v3h-1zM198 460h2v2h-2zM200 460h1v3h-1zM201 461h2v2h-2zM203 461h1v3h-1zM204 462h2v2h-2zM206 462h1v3h-1zM207 463h2v2h-2zM209 463h1v3h-1zM210 464h2v2h-2zM212 464h1v3h-1zM213 465h2v2h-2zM215 465h1v3h-1zM216 466h2v2h-2zM218 466h1v3h-1zM219 467h2v2h-2zM221 467h1v3h-1zM222 468h2v2h-2zM224 468h1v3h-1zM225 469h2v2h-2zM227 469h1v3h-1zM228 470h2v2h-2zM230 470h1v3h-1zM231 471h2v2h-2zM233 471h1v3h-1zM234 472h2v2h-2zM236 472h1v3h-1zM237 473h2v2h-2zM239 473h1v3h-1zM240 474h1v2h-1zM241 474h1v3h-1zM242 475h2v2h-2zM244 475h1v3h-1zM245 476h2v2h-2zM247 476h1v3h-1zM248 477h2v2h-2zM250 477h1v3h-1zM251 478h2v2h-2zM253 478h1v3h-1zM254 479h2v2h-2zM256 479h1v3h-1zM257 480h2v2h-2zM259 480h1v3h-1zM260 481h2v2h-2zM262 481h1v3h-1zM263 482h2v2h-2zM265 482h1v3h-1zM266 483h2v2h-2zM268 483h1v3h-1zM269 484h2v2h-2zM271 484h1v3h-1zM272 485h2v2h-2zM274 485h1v3h-1zM275 486h2v2h-2zM277 486h1v3h-1zM278 487h2v2h-2zM280 487h1v3h-1zM281 488h2v2h-2zM283 488h1v3h-1zM284 489h2v2h-2zM286 489h1v3h-1zM287 490h2v2h-2zM289 490h1v3h-1zM290 491h2v2h-2zM292 491h1v3h-1zM293 492h2v2h-2zM295 492h1v3h-1zM296 493h2v2h-2zM298 493h1v3h-1zM299 494h2v2h-2zM301 494h1v3h-1zM302 495h1v2h-1zM303 495h1v3h-1zM304 496h2v2h-2zM306 496h1v3h-1zM307 497h2v2h-2zM309 497h1v3h-1zM310 498h2v2h-2zM312 498h1v3h-1zM313 499h2v2h-2zM315 499h1v3h-1zM316 500h2v2h-2zM318 500h1v3h-1zM319 501h2v2h-2zM321 501h1v3h-1zM322 502h2v2h-2zM324 502h1v3h-1zM325 503h2v2h-2zM327 503h1v3h-1zM328 504h2v2h-2zM330 504h1v3h-1zM331 505h2v2h-2zM333 505h1v3h-1zM334 506h2v2h-2zM336 506h1v3h-1zM337 507h2v2h-2zM339 507h1v3h-1zM340 508h2v2h-2zM342 508h1v3h-1zM343 509h2v2h-2zM345 509h1v3h-1zM346 510h2v2h-2zM348 510h1v3h-1zM349 511h2v2h-2zM351 511h1v3h-1zM352 512h2v2h-2zM354 512h1v3h-1zM355 513h2v2h-2zM357 513h1v3h-1zM358 514h2v2h-2zM360 514h1v3h-1zM361 515h2v2h-2zM363 515h1v3h-1zM364 516h1v2h-1zM365 516h1v3h-1zM366 517h2v2h-2zM368 517h1v3h-1zM369 518h2v2h-2zM371 518h1v3h-1zM372 519h2v2h-2zM374 519h1v3h-1zM375 520h2v2h-2zM377 520h1v3h-1zM378 521h2v2h-2zM380 521h1v3h-1zM381 522h2v2h-2zM383 522h1v3h-1zM384 523h2v2h-2zM386 523h1v3h-1zM387 524h2v2h-2zM389 524h1v3h-1zM390 525h2v2h-2zM392 525h1v3h-1zM393 526h2v2h-2zM395 526h1v3h-1zM396 527h2v2h-2zM398 527h1v3h-1zM399 528h2v2h-2zM401 528h1v3h-1zM402 529h2v2h-2zM404 529h1v3h-1zM405 530h2v2h-2zM407 530h1v3h-1zM408 531h2v2h-2zM410 531h1v3h-1zM411 532h2v2h-2zM413 532h1v3h-1zM414 533h2v2h-2zM416 533h1v3h-1zM417 534h2v2h-2zM419 534h1v3h-1zM420 535h2v2h-2zM422 535h1v3h-1zM423 536h1v2h-1zM424 536h1v3h-1zM425 537h2v2h-2zM427 537h1v3h-1zM428 538h2v2h-2zM430 538h1v3h-1zM431 539h2v2h-2zM433 539h1v3h-1zM434 540h2v2h-2zM436 540h1v3h-1zM437 541h2v2h-2zM439 541h1v3h-1zM440 542h2v2h-2zM442 542h1v3h-1zM443 543h2v2h-2zM445 543h1v3h-1zM446 544h2v2h-2zM448 544h1v3h-1zM449 545h2v2h-2zM451 545h1v3h-1zM452 546h2v2h-2zM454 546h1v3h-1zM455 547h2v2h-2zM457 547h1v3h-1zM458 548h2v2h-2zM460 548h1v3h-1zM461 549h2v2h-2zM463 549h1v3h-1zM464 550h2v2h-2zM466 550h1v3h-1zM467 551h2v2h-2zM469 551h1v3h-1zM470 552h2v2h-2zM472 552h1v3h-1zM473 553h2v2h-2zM475 553h1v3h-1zM476 554h2v2h-2zM478 554h1v3h-1zM479 555h2v2h-2zM481 555h1v3h-1zM482 556h2v2h-2zM484 556h1v3h-1zM485 557h1v2h-1zM486 557h1v3h-1zM487 558h2v2h-2zM489 558h1v3h-1zM490 559h2v2h-2zM492 559h1v3h-1zM493 560h2v2h-2zM495 560h1v3h-1zM496 561h2v2h-2zM498 561h1v3h-1zM499 562h2v2h-2zM501 562h1v3h-1zM502 563h2v2h-2zM504 563h1v3h-1zM505 564h2v2h-2zM507 564h1v3h-1zM508 565h2v2h-2zM510 565h1v3h-1zM511 566h2v2h-2zM513 566h1v3h-1zM514 567h2v2h-2zM516 567h1v3h-1zM517 568h2v2h-2zM519 568h1v3h-1zM520 569h2v2h-2zM522 569h1v3h-1zM523 570h2v2h-2zM525 570h1v3h-1zM526 571h2v2h-2zM528 571h1v3h-1zM529 572h2v2h-2zM531 572h1v3h-1zM532 573h2v2h-2zM534 573h1v3h-1zM535 574h2v2h-2zM537 574h1v3h-1zM538 575h2v2h-2zM540 575h1v3h-1zM541 576h2v2h-2zM543 576h1v3h-1zM544 577h1v2h-1zM545 577h1v3h-1zM546 578h2v2h-2zM548 578h1v3h-1zM549 579h2v2h-2zM551 579h1v3h-1zM552 580h2v2h-2zM554 580h1v3h-1zM555 581h2v2h-2zM557 581h1v3h-1zM558 582h2v2h-2zM560 582h1v3h-1zM561 583h2v2h-2zM563 583h1v3h-1zM564 584h2v2h-2zM566 584h1v3h-1zM567 585h2v2h-2zM569 585h1v3h-1zM570 586h2v2h-2zM572 586h1v3h-1zM573 587h2v2h-2zM575 587h1v3h-1zM576 588h2v2h-2zM578 588h1v3h-1zM579 589h2v2h-2zM581 589h1v3h-1zM582 590h2v2h-2zM584 590h1v3h-1zM585 591h2v2h-2zM587 591h1v3h-1zM588 592h2v2h-2zM590 592h1v3h-1zM591 593h2v2h-2zM593 593h1v3h-1zM594 594h2v2h-2zM596 594h1v3h-1zM597 595h2v2h-2zM599 595h1v3h-1zM600 596h2v2h-2zM602 596h1v3h-1zM603 597h2v2h-2zM605 597h1v3h-1zM606 598h1v2h-1zM607 598h1v3h-1zM608 599h2v2h-2zM610 599h1v3h-1zM611 600h2v2h-2zM613 600h1v3h-1zM614 601h2v2h-2zM616 601h1v3h-1zM617 602h2v2h-2zM619 602h1v3h-1zM620 603h2v2h-2zM622 603h1v3h-1zM623 604h2v2h-2zM625 604h1v3h-1zM626 605h2v2h-2zM628 605h1v3h-1zM629 606h2v2h-2zM631 606h1v3h-1zM632 607h2v2h-2zM634 607h1v3h-1zM635 608h2v2h-2zM637 608h1v3h-1zM638 609h2v2h-2zM640 609h1v3h-1zM641 610h2v2h-2zM643 610h1v3h-1zM644 611h2v2h-2zM646 611h1v3h-1zM647 612h2v2h-2zM649 612h1v3h-1zM650 613h2v2h-2zM652 613h1v3h-1zM653 614h2v2h-2zM655 614h1v3h-1zM656 615h2v2h-2zM658 615h1v3h-1zM659 616h2v2h-2zM661 616h1v3h-1zM662 617h2v2h-2zM664 617h1v3h-1zM665 618h1v2h-1zM666 618h1v3h-1zM667 619h2v2h-2zM669 619h1v3h-1zM670 620h2v2h-2zM672 620h1v3h-1zM673 621h2v2h-2zM675 621h1v3h-1zM676 622h2v2h-2zM678 622h1v3h-1zM679 623h2v2h-2zM681 623h1v3h-1zM682 624h2v2h-2zM684 624h1v3h-1zM685 625h2v2h-2zM687 625h1v3h-1zM688 626h2v2h-2zM690 626h1v3h-1zM691 627h2v2h-2zM693 627h1v3h-1zM694 628h2v2h-2zM696 628h1v3h-1zM697 629h2v2h-2zM699 629h1v3h-1zM700 630h2v2h-2zM702 630h1v3h-1zM703 631h2v2h-2zM705 631h1v3h-1zM706 632h2v2h-2zM708 632h1v3h-1zM709 633h2v2h-2zM711 633h1v3h-1zM712 634h2v2h-2zM714 634h1v3h-1zM715 635h2v2h-2zM717 635h1v3h-1zM718 636h2v2h-2zM720 636h1v3h-1zM721 637h2v2h-2zM723 637h1v3h-1zM724 638h2v2h-2zM726 638h1v3h-1zM727 639h1v2h-1zM728 639h1v3h-1zM729 640h2v2h-2zM731 640h1v3h-1zM732 641h2v2h-2zM734 641h1v3h-1zM735 642h2v2h-2zM737 642h1v3h-1zM738 643h2v2h-2zM740 643h1v3h-1zM741 644h2v2h-2zM743 644h1v3h-1zM744 645h2v2h-2zM746 645h1v3h-1zM747 646h2v2h-2zM749 646h1v3h-1zM750 647h2v2h-2zM752 647h1v3h-1zM753 648h2v2h-2zM755 648h1v3h-1zM756 649h2v2h-2zM758 649h1v3h-1zM759 650h2v2h-2zM761 650h1v3h-1zM762 651h2v2h-2zM764 651h1v3h-1zM765 652h2v2h-2zM767 652h1v3h-1zM768 653h2v2h-2zM770 653h1v3h-1zM771 654h2v2h-2zM773 654h1v3h-1zM774 655h2v2h-2zM776 655h1v3h-1zM777 656h2v2h-2zM779 656h1v3h-1zM780 657h2v2h-2zM782 657h1v3h-1zM783 658h2v2h-2zM785 658h1v3h-1zM786 659h2v2h-2zM788 659h1v3h-1zM789 660h1v2h-1zM790 660h1v3h-1zM791 661h2v2h-2zM793 661h1v3h-1zM794 662h2v2h-2zM796 662h1v3h-1zM797 663h3v2h-3zM800 664h3v1h-3z" fill="#ff0000" shape-rendering="crispEdges"/>
<g shape-rendering="crispEdges"><rect x="553" y="607" width="7" height="1" fill="#000"/><rect x="555" y="605" width="1" height="4" fill="#000"/></g>
<text x="85.5" y="44.6" font-size="12" fill="#2e3a59" text-anchor="end" font-weight="normal" font-family='"Liberation Sans", sans-serif'>82.30</text>
<text x="85.5" y="100.6" font-size="12" fill="#2e3a59" text-anchor="end" font-weight="normal" font-family='"Liberation Sans", sans-serif'>79.66</text>
<text x="85.5" y="157.6" font-size="12" fill="#2e3a59" text-anchor="end" font-weight="normal" font-family='"Liberation Sans", sans-serif'>77.01</text>
<text x="85.5" y="214.6" font-size="12" fill="#2e3a59" text-anchor="end" font-weight="normal" font-family='"Liberation Sans", sans-serif'>74.37</text>
<text x="85.5" y="270.6" font-size="12" fill="#2e3a59" text-anchor="end" font-weight="normal" font-family='"Liberation Sans", sans-serif'>71.73</text>
<text x="85.5" y="327.6" font-size="12" fill="#2e3a59" text-anchor="end" font-weight="normal" font-family='"Liberation Sans", sans-serif'>69.08</text>
<text x="85.5" y="384.6" font-size="12" fill="#2e3a59" text-anchor="end" font-weight="normal" font-family='"Liberation Sans", sans-serif'>66.44</text>
<text x="85.5" y="441.6" font-size="12" fill="#2e3a59" text-anchor="end" font-weight="normal" font-family='"Liberation Sans", sans-serif'>63.79</text>
<text x="85.5" y="497.6" font-size="12" fill="#2e3a59" text-anchor="end" font-weight="normal" font-family='"Liberation Sans", sans-serif'>61.15</text>
<text x="85.5" y="554.6" font-size="12" fill="#2e3a59" text-anchor="end" font-weight="normal" font-family='"Liberation Sans", sans-serif'>58.51</text>
<text x="85.5" y="611.6" font-size="12" fill="#2e3a59" text-anchor="end" font-weight="normal" font-family='"Liberation Sans", sans-serif'>55.86</text>
<text x="85.5" y="690.6" font-size="12" fill="#2e3a59" text-anchor="end" font-weight="normal" font-family='"Liberation Sans", sans-serif'>1.87</text>
<text x="85.5" y="713.6" font-size="12" fill="#2e3a59" text-anchor="end" font-weight="normal" font-family='"Liberation Sans", sans-serif'>1.47</text>
<text x="85.5" y="737.6" font-size="12" fill="#2e3a59" text-anchor="end" font-weight="normal" font-family='"Liberation Sans", sans-serif'>1.08</text>
<text x="85.5" y="760.6" font-size="12" fill="#2e3a59" text-anchor="end" font-weight="normal" font-family='"Liberation Sans", sans-serif'>0.68</text>
<text x="85.5" y="783.6" font-size="12" fill="#2e3a59" text-anchor="end" font-weight="normal" font-family='"Liberation Sans", sans-serif'>0.29</text>
<text x="85.5" y="807.6" font-size="12" fill="#2e3a59" text-anchor="end" font-weight="normal" font-family='"Liberation Sans", sans-serif'>-0.11</text>
<text x="85.5" y="830.6" font-size="12" fill="#2e3a59" text-anchor="end" font-weight="normal" font-family='"Liberation Sans", sans-serif'>-0.50</text>
<text x="85.5" y="853.6" font-size="12" fill="#2e3a59" text-anchor="end" font-weight="normal" font-family='"Liberation Sans", sans-serif'>-0.90</text>
<text x="85.5" y="877.6" font-size="12" fill="#2e3a59" text-anchor="end" font-weight="normal" font-family='"Liberation Sans", sans-serif'>-1.29</text>
<text x="85.5" y="900.6" font-size="12" fill="#2e3a59" text-anchor="end" font-weight="normal" font-family='"Liberation Sans", sans-serif'>-1.69</text>
<text x="561" y="619" font-size="12" fill="#5fa55f" stroke="#5fa55f" stroke-width="0.45" font-family='"Liberation Sans", sans-serif'>55.96</text>
<text x="221.5" y="934" font-size="12" fill="#1d2540" text-anchor="start" font-weight="bold" font-family='"Liberation Sans", sans-serif' textLength="44" lengthAdjust="spacing">2025/08</text>
<text x="347.5" y="934" font-size="12" fill="#1d2540" text-anchor="start" font-weight="bold" font-family='"Liberation Sans", sans-serif' textLength="44" lengthAdjust="spacing">2025/09</text>
<text x="479.5" y="934" font-size="12" fill="#1d2540" text-anchor="start" font-weight="bold" font-family='"Liberation Sans", sans-serif' textLength="44" lengthAdjust="spacing">2025/10</text>
<text x="617.5" y="934" font-size="12" fill="#1d2540" text-anchor="start" font-weight="bold" font-family='"Liberation Sans", sans-serif' textLength="44" lengthAdjust="spacing">2025/11</text>
<text x="91" y="34" font-size="12" fill="#000" text-anchor="start" font-weight="normal" font-family='"Liberation Sans", "Noto Sans CJK SC", sans-serif' textLength="60" lengthAdjust="spacing">美原油连续</text>
<text x="151" y="34" font-size="12" fill="#ff6600" text-anchor="start" font-weight="normal" font-family='"Liberation Sans", "Noto Sans CJK SC", sans-serif' textLength="48" lengthAdjust="spacing">【日线】</text>
<g fill="none" stroke="#ff7a1a" stroke-width="0.8"><circle cx="203.7" cy="31.4" r="4"/><path d="M199.7 31.4H207.7"/><path d="M203.7 27.4V35.4" opacity="0.55"/></g>
<g shape-rendering="crispEdges"><rect x="216.5" y="21.5" width="11" height="12" fill="#fff" stroke="#101080"/></g><polyline points="217.5,27.5 220.5,24.5 223,27 226.5,23.5" fill="none" stroke="#e02020" stroke-width="1.2"/><polyline points="217.5,31.5 220.5,28.5 223,31 226.5,28" fill="none" stroke="#2020d0" stroke-width="1.2"/>
<text x="231.3" y="34" font-size="12" fill="#000" text-anchor="start" font-weight="normal" font-family='"Liberation Sans", sans-serif' textLength="92.2" lengthAdjust="spacing">MA1(50,0,200,0)</text>
<text x="328.7" y="34" font-size="12" fill="#000" text-anchor="start" font-weight="normal" font-family='"Liberation Sans", sans-serif' textLength="67.1" lengthAdjust="spacing">MA50:60.59</text>
<text x="404.9" y="34" font-size="12" fill="#0c0c8c" text-anchor="start" font-weight="normal" font-family='"Liberation Sans", sans-serif' textLength="59.4" lengthAdjust="spacing">MA0:58.77</text>
<text x="473.3" y="34" font-size="12" fill="#ff00ff" text-anchor="start" font-weight="normal" font-family='"Liberation Sans", sans-serif' textLength="74.5" lengthAdjust="spacing">MA200:64.06</text>
<text x="556.4" y="34" font-size="12" fill="#ff7f1a" text-anchor="start" font-weight="normal" font-family='"Liberation Sans", sans-serif' textLength="59.6" lengthAdjust="spacing">MA0:58.77</text>
<text x="91.5" y="680" font-size="12" fill="#111" text-anchor="start" font-weight="normal" font-family='"Liberation Sans", sans-serif' textLength="79" lengthAdjust="spacing">MACD(13,8,9)</text>
<text x="174.5" y="680" font-size="12" fill="#111" text-anchor="start" font-weight="normal" font-family='"Liberation Sans", sans-serif' textLength="56" lengthAdjust="spacing">DIFF:-0.22</text>
<text x="239" y="680" font-size="12" fill="#0c0c8c" text-anchor="start" font-weight="normal" font-family='"Liberation Sans", sans-serif' textLength="56" lengthAdjust="spacing">DEA:-0.15</text>
<text x="303" y="680" font-size="12" fill="#ff00ff" text-anchor="start" font-weight="normal" font-family='"Liberation Sans", sans-serif' textLength="69" lengthAdjust="spacing">MACD:-0.14</text>
<g fill="none"><circle cx="28.3" cy="672.9" r="3" stroke="#401010" stroke-width="0.9"/><circle cx="28.3" cy="672.9" r="1.6" fill="#ff0000"/><path d="M28.3 666.4v2M28.3 677.4v2M21.8 672.9h2M32.8 672.9h2M23.7 668.3l1.4 1.4M31.5 676.1l1.4 1.4M32.9 668.3l-1.4 1.4M25.1 676.1l-1.4 1.4" stroke="#ff0000" stroke-width="1"/></g>
<rect x="583" y="941" width="356" height="1" fill="#c9d1dc" shape-rendering="crispEdges"/>
<g transform="translate(809.9 952.2) scale(0.955 1)" font-size="31.3" font-family='"Liberation Sans", sans-serif' letter-spacing="2.7"><text x="1.1" y="1" fill="#c4a898" opacity="0.75">FX678</text><text x="0" y="0" fill="#d6e4f6" opacity="0.93">FX678</text></g>
</svg>
<svg width="939" height="21" viewBox="0 0 939 21" style="position:absolute;left:0;top:0">
<rect x="0" y="0" width="939" height="20" fill="#f4f5f9"/>
<g shape-rendering="crispEdges">
<rect x="0" y="0" width="69" height="19" fill="#e9eaf3"/>
<rect x="0" y="19" width="69" height="1" fill="#d1d4dd"/>
<rect x="70" y="0" width="70" height="19" fill="#e9eaf3"/>
<rect x="70" y="19" width="70" height="1" fill="#d1d4dd"/>
<rect x="70" y="0" width="1" height="19" fill="#dfe1ea"/>
<rect x="141" y="0" width="66" height="19" fill="#e9eaf3"/>
<rect x="141" y="19" width="66" height="1" fill="#d1d4dd"/>
<rect x="141" y="0" width="1" height="19" fill="#dfe1ea"/>
<rect x="208" y="0" width="46" height="19" fill="#e9eaf3"/>
<rect x="208" y="19" width="46" height="1" fill="#d1d4dd"/>
<rect x="208" y="0" width="1" height="19" fill="#dfe1ea"/>
<rect x="255" y="0" width="46" height="19" fill="#e9eaf3"/>
<rect x="255" y="19" width="46" height="1" fill="#d1d4dd"/>
<rect x="255" y="0" width="1" height="19" fill="#dfe1ea"/>
<rect x="302" y="0" width="46" height="19" fill="#e9eaf3"/>
<rect x="302" y="19" width="46" height="1" fill="#d1d4dd"/>
<rect x="302" y="0" width="1" height="19" fill="#dfe1ea"/>
<rect x="349" y="0" width="46" height="19" fill="#e9eaf3"/>
<rect x="349" y="19" width="46" height="1" fill="#d1d4dd"/>
<rect x="349" y="0" width="1" height="19" fill="#dfe1ea"/>
<rect x="396" y="0" width="27" height="19" fill="#e9eaf3"/>
<rect x="396" y="19" width="27" height="1" fill="#d1d4dd"/>
<rect x="396" y="0" width="1" height="19" fill="#dfe1ea"/>
<rect x="424" y="0" width="27" height="19" fill="#e9eaf3"/>
<rect x="424" y="19" width="27" height="1" fill="#d1d4dd"/>
<rect x="424" y="0" width="1" height="19" fill="#dfe1ea"/>
<rect x="452" y="0" width="27" height="19" fill="#e9eaf3"/>
<rect x="452" y="19" width="27" height="1" fill="#d1d4dd"/>
<rect x="452" y="0" width="1" height="19" fill="#dfe1ea"/>
<rect x="480" y="0" width="27" height="19" fill="#e9eaf3"/>
<rect x="480" y="19" width="27" height="1" fill="#d1d4dd"/>
<rect x="480" y="0" width="1" height="19" fill="#dfe1ea"/>
<rect x="508" y="0" width="27" height="19" fill="#e9eaf3"/>
<rect x="508" y="19" width="27" height="1" fill="#d1d4dd"/>
<rect x="508" y="0" width="1" height="19" fill="#dfe1ea"/>
<rect x="536" y="0" width="27" height="19" fill="#e9eaf3"/>
<rect x="536" y="19" width="27" height="1" fill="#d1d4dd"/>
<rect x="536" y="0" width="1" height="19" fill="#dfe1ea"/>
<rect x="564" y="0" width="27" height="19" fill="#e9eaf3"/>
<rect x="564" y="19" width="27" height="1" fill="#d1d4dd"/>
<rect x="564" y="0" width="1" height="19" fill="#dfe1ea"/>
<rect x="592" y="0" width="27" height="19" fill="#e9eaf3"/>
<rect x="592" y="19" width="27" height="1" fill="#d1d4dd"/>
<rect x="592" y="0" width="1" height="19" fill="#dfe1ea"/>
<rect x="620" y="0" width="27" height="19" fill="#e9eaf3"/>
<rect x="620" y="19" width="27" height="1" fill="#d1d4dd"/>
<rect x="620" y="0" width="1" height="19" fill="#dfe1ea"/>
<rect x="648" y="0" width="27" height="19" fill="#e9eaf3"/>
<rect x="648" y="19" width="27" height="1" fill="#d1d4dd"/>
<rect x="648" y="0" width="1" height="19" fill="#dfe1ea"/>
<rect x="676" y="0" width="70" height="19" fill="#e9eaf3"/>
<rect x="676" y="19" width="70" height="1" fill="#d1d4dd"/>
<rect x="676" y="0" width="1" height="19" fill="#dfe1ea"/>
<rect x="747" y="0" width="27" height="19" fill="#e9eaf3"/>
<rect x="747" y="19" width="27" height="1" fill="#d1d4dd"/>
<rect x="747" y="0" width="1" height="19" fill="#dfe1ea"/>
<rect x="775" y="0" width="46" height="19" fill="#e9eaf3"/>
<rect x="775" y="19" width="46" height="1" fill="#d1d4dd"/>
<rect x="775" y="0" width="1" height="19" fill="#dfe1ea"/>
<rect x="822" y="0" width="46" height="19" fill="#e9eaf3"/>
<rect x="822" y="19" width="46" height="1" fill="#d1d4dd"/>
<rect x="822" y="0" width="1" height="19" fill="#dfe1ea"/>
<rect x="869" y="0" width="46" height="19" fill="#e9eaf3"/>
<rect x="869" y="19" width="46" height="1" fill="#d1d4dd"/>
<rect x="869" y="0" width="1" height="19" fill="#dfe1ea"/>
<rect x="916" y="0" width="46" height="19" fill="#e9eaf3"/>
<rect x="916" y="19" width="46" height="1" fill="#d1d4dd"/>
<rect x="916" y="0" width="1" height="19" fill="#dfe1ea"/>
</g>
<path d="M13 5.3L19 -0.3V3c4.6 0 8.2 2.6 8.3 9.2-1.6-3.4-4.2-4.7-8.3-4.7v3.3z" fill="#3b404e"/>
<text x="29.3" y="9.9" font-size="13" fill="#555a68" text-anchor="start" font-family='"Liberation Sans", "Noto Sans CJK SC", sans-serif' >返回</text>
<path d="M90.5 -1.5L83.6 5.6h1.9v7.2h3.4V8.4h3.2v4.4h3.4V5.6h1.9z" fill="#3b404e"/>
<text x="100.5" y="9.9" font-size="13" fill="#555a68" text-anchor="start" font-family='"Liberation Sans", "Noto Sans CJK SC", sans-serif' >首页</text>
<path d="M181.4 6.5A6.8 6.8 0 1 0 178.9 11.8" fill="none" stroke="#3b404e" stroke-width="1.8"/>
<path d="M178.7 6.2h5.4l-2.7 3.8z" fill="#3b404e"/>
<path d="M222 9.6l2.9-2.4V14H222zM227 6.2l1.5-1.3 1.5 1V14h-3zM232 8.6l3.1-2.6V14H232zM237.1 4l3.1-2.6V14h-3.1z" fill="#3b404e"/>
<path d="M222 7.8l6.3-5.8 4.2 3.3 6.9-5.8" fill="none" stroke="#3b404e" stroke-width="1.4"/>
<g fill="#3b404e"><rect x="268" y="3.4" width="3.4" height="5.8" rx="1.2"/><rect x="269.2" y="2.4" width="1" height="8"/><rect x="273.7" y="1" width="3.3" height="8.2" rx="1"/><rect x="274.7" y="-1" width="1.3" height="14.4"/><rect x="279.1" y="5.8" width="3.1" height="4.3" rx="1"/><rect x="280.1" y="2.9" width="1.2" height="9.7"/><rect x="284.7" y="4.7" width="3.3" height="5" rx="1"/><rect x="285.8" y="1" width="1.2" height="11.6"/></g>
<text x="325.2" y="11.7" font-size="16.5" fill="#555a68" text-anchor="middle" font-family='"Liberation Sans", sans-serif' >tick</text>
<text x="362.2" y="11" font-size="13" fill="#555a68" text-anchor="start" font-family='"Liberation Sans", "Noto Sans CJK SC", sans-serif' >5</text>
<text x="369.2" y="9.9" font-size="13" fill="#555a68" text-anchor="start" font-family='"Liberation Sans", "Noto Sans CJK SC", sans-serif' >日</text>
<text x="410" y="11" font-size="13" fill="#555a68" text-anchor="middle" font-family='"Liberation Sans", "Noto Sans CJK SC", sans-serif' >5</text>
<text x="437.6" y="11" font-size="13" fill="#555a68" text-anchor="middle" font-family='"Liberation Sans", "Noto Sans CJK SC", sans-serif' >15</text>
<text x="466" y="11" font-size="13" fill="#555a68" text-anchor="middle" font-family='"Liberation Sans", "Noto Sans CJK SC", sans-serif' >30</text>
<text x="493.4" y="11" font-size="13" fill="#555a68" text-anchor="middle" font-family='"Liberation Sans", "Noto Sans CJK SC", sans-serif' >60</text>
<text x="521.4" y="11" font-size="13" fill="#555a68" text-anchor="middle" font-family='"Liberation Sans", "Noto Sans CJK SC", sans-serif' >2H</text>
<text x="549.3" y="11" font-size="13" fill="#555a68" text-anchor="middle" font-family='"Liberation Sans", "Noto Sans CJK SC", sans-serif' >4H</text>
<text x="577.5" y="9.9" font-size="13" fill="#555a68" text-anchor="middle" font-family='"Liberation Sans", "Noto Sans CJK SC", sans-serif' >日</text>
<text x="605.2" y="9.9" font-size="13" fill="#555a68" text-anchor="middle" font-family='"Liberation Sans", "Noto Sans CJK SC", sans-serif' >周</text>
<text x="632.7" y="9.9" font-size="13" fill="#555a68" text-anchor="middle" font-family='"Liberation Sans", "Noto Sans CJK SC", sans-serif' >月</text>
<text x="661.5" y="9.9" font-size="13" fill="#555a68" text-anchor="middle" font-family='"Liberation Sans", "Noto Sans CJK SC", sans-serif' >年</text>
<g fill="#2b303e"><rect x="690.3" y="-0.5" width="14" height="3" rx="1.3"/><rect x="690.3" y="4.6" width="14" height="3" rx="1.3"/><rect x="690.3" y="10" width="14" height="3" rx="1.3"/></g>
<text x="707.5" y="9.9" font-size="13" fill="#555a68" text-anchor="start" font-family='"Liberation Sans", "Noto Sans CJK SC", sans-serif' >更多</text>
<path d="M752.6 12.3c2.3.7 3.5-.4 3.7-2.5l.9-7.6c.2-2.1 1.4-3.1 3.3-2.7" fill="none" stroke="#3b404e" stroke-width="1.9"/><path d="M754.3 4.4h6.4" stroke="#3b404e" stroke-width="1.6"/><path d="M761.3 6.3l6.6 6.3M767.9 6.3l-6.6 6.3" stroke="#3b404e" stroke-width="2.1" fill="none"/>
<circle cx="798.5" cy="5.4" r="6.6" fill="none" stroke="#3b404e" stroke-width="1.2"/>
<path d="M795.3 5.4h6.4" stroke="#3b404e" stroke-width="1.2"/>
<path d="M803.1 10.4l3 3.1" stroke="#3b404e" stroke-width="1.3"/>
<circle cx="845.4" cy="5.4" r="6.6" fill="none" stroke="#3b404e" stroke-width="1.2"/>
<path d="M842.1999999999999 5.4h6.4" stroke="#3b404e" stroke-width="1.2"/>
<path d="M845.4 2.2v6.4" stroke="#3b404e" stroke-width="1.2"/>
<path d="M850.0 10.4l3 3.1" stroke="#3b404e" stroke-width="1.3"/>
<path d="M887.2 11.2l.9-3.3 8.6-8.9 2.6 2.5-8.7 8.8z" fill="#3b404e"/>
<rect x="885.2" y="12.8" width="14.6" height="1.2" fill="#3b404e"/>
<path d="M920.5 14L929.5 3.6 938.5 14" fill="none" stroke="#3b404e" stroke-width="1.1"/>
<rect x="920" y="13.6" width="20" height="1.8" fill="#8d919e"/>
</svg>
<div class="side" style="top:22px;height:49px;padding-top:5px">分<br>时<br>图</div>
<div class="side on" style="top:71px;height:46px;padding-top:5px;width:17px"><span style="font-family:'Liberation Serif',serif;font-size:11px;position:relative;top:-1.5px">K</span><br>线<br>图</div>
<div class="side" style="top:117px;height:53px;padding-top:7px;line-height:14.3px;border-bottom:1px solid #cfd3dc">闪<br>电<br>图</div>
<div class="side" style="top:170px;height:64px;padding-top:6.5px;line-height:14.1px">合<br>约<br>资<br>料</div>
<div class="period"><span style="position:absolute;left:13px;top:1.3px">日线</span><svg width="10" height="9" style="position:absolute;left:43px;top:5.5px"><path d="M0.3 8.3L4.7 0.5 9 8.3z" fill="#ff7f1a"/></svg></div>
<div class="bt on" style="left:19px;width:40px">指标</div>
<div class="bt " style="left:59px;width:40px">模板</div>
<div class="bt vip" style="left:99px;width:58px"><span class="mm">VIP</span>指标</div>
<div class="bt m" style="left:157px;width:28px"><span class="mm">MA</span></div>
<div class="bt m" style="left:185px;width:40px"><span class="mm">MACD</span></div>
<div class="bt m" style="left:225px;width:40px"><span class="mm">BOLL</span></div>
<div class="bt m" style="left:265px;width:34px"><span class="mm">VOL</span></div>
<div class="bt m" style="left:299px;width:40px"><span class="mm">BIAS</span></div>
<div class="bt m" style="left:339px;width:34px"><span class="mm">CCI</span></div>
<div class="bt m" style="left:373px;width:34px"><span class="mm">KDJ</span></div>
<div class="bt m lw" style="left:407px;width:40px">LW&amp;</div>
<div class="bt m" style="left:447px;width:34px"><span class="mm">RSI</span></div>
<div class="bt m" style="left:481px;width:28px"><span class="mm">CR</span></div>
<div class="bt m" style="left:509px;width:34px"><span class="mm">PSY</span></div>
<div class="bt " style="left:543px;width:40px">设置</div>
<div class="hline" style="left:0;top:957px;width:939px"></div>
<div class="hline" style="left:583px;top:956px;width:356px"></div>
<div style="position:absolute;left:742px;top:958px;width:180px;height:8px;background:#b8b7bc"></div>
<svg width="24" height="8" style="position:absolute;left:820px;top:958px"><path d="M0 7.5L12 1l12 6.5z" fill="#5f5f66"/></svg>
<div class="hline" style="left:1px;top:966px;width:938px"></div>
<div style="position:absolute;left:1px;top:967px;width:45px;height:12px;border-right:1px solid #c9d1dc;border-left:1px solid #c9d1dc;box-sizing:border-box;font-size:12px;line-height:14px;text-align:center;color:#2a3040;padding-top:4px">资讯</div>
</div></body></html>
